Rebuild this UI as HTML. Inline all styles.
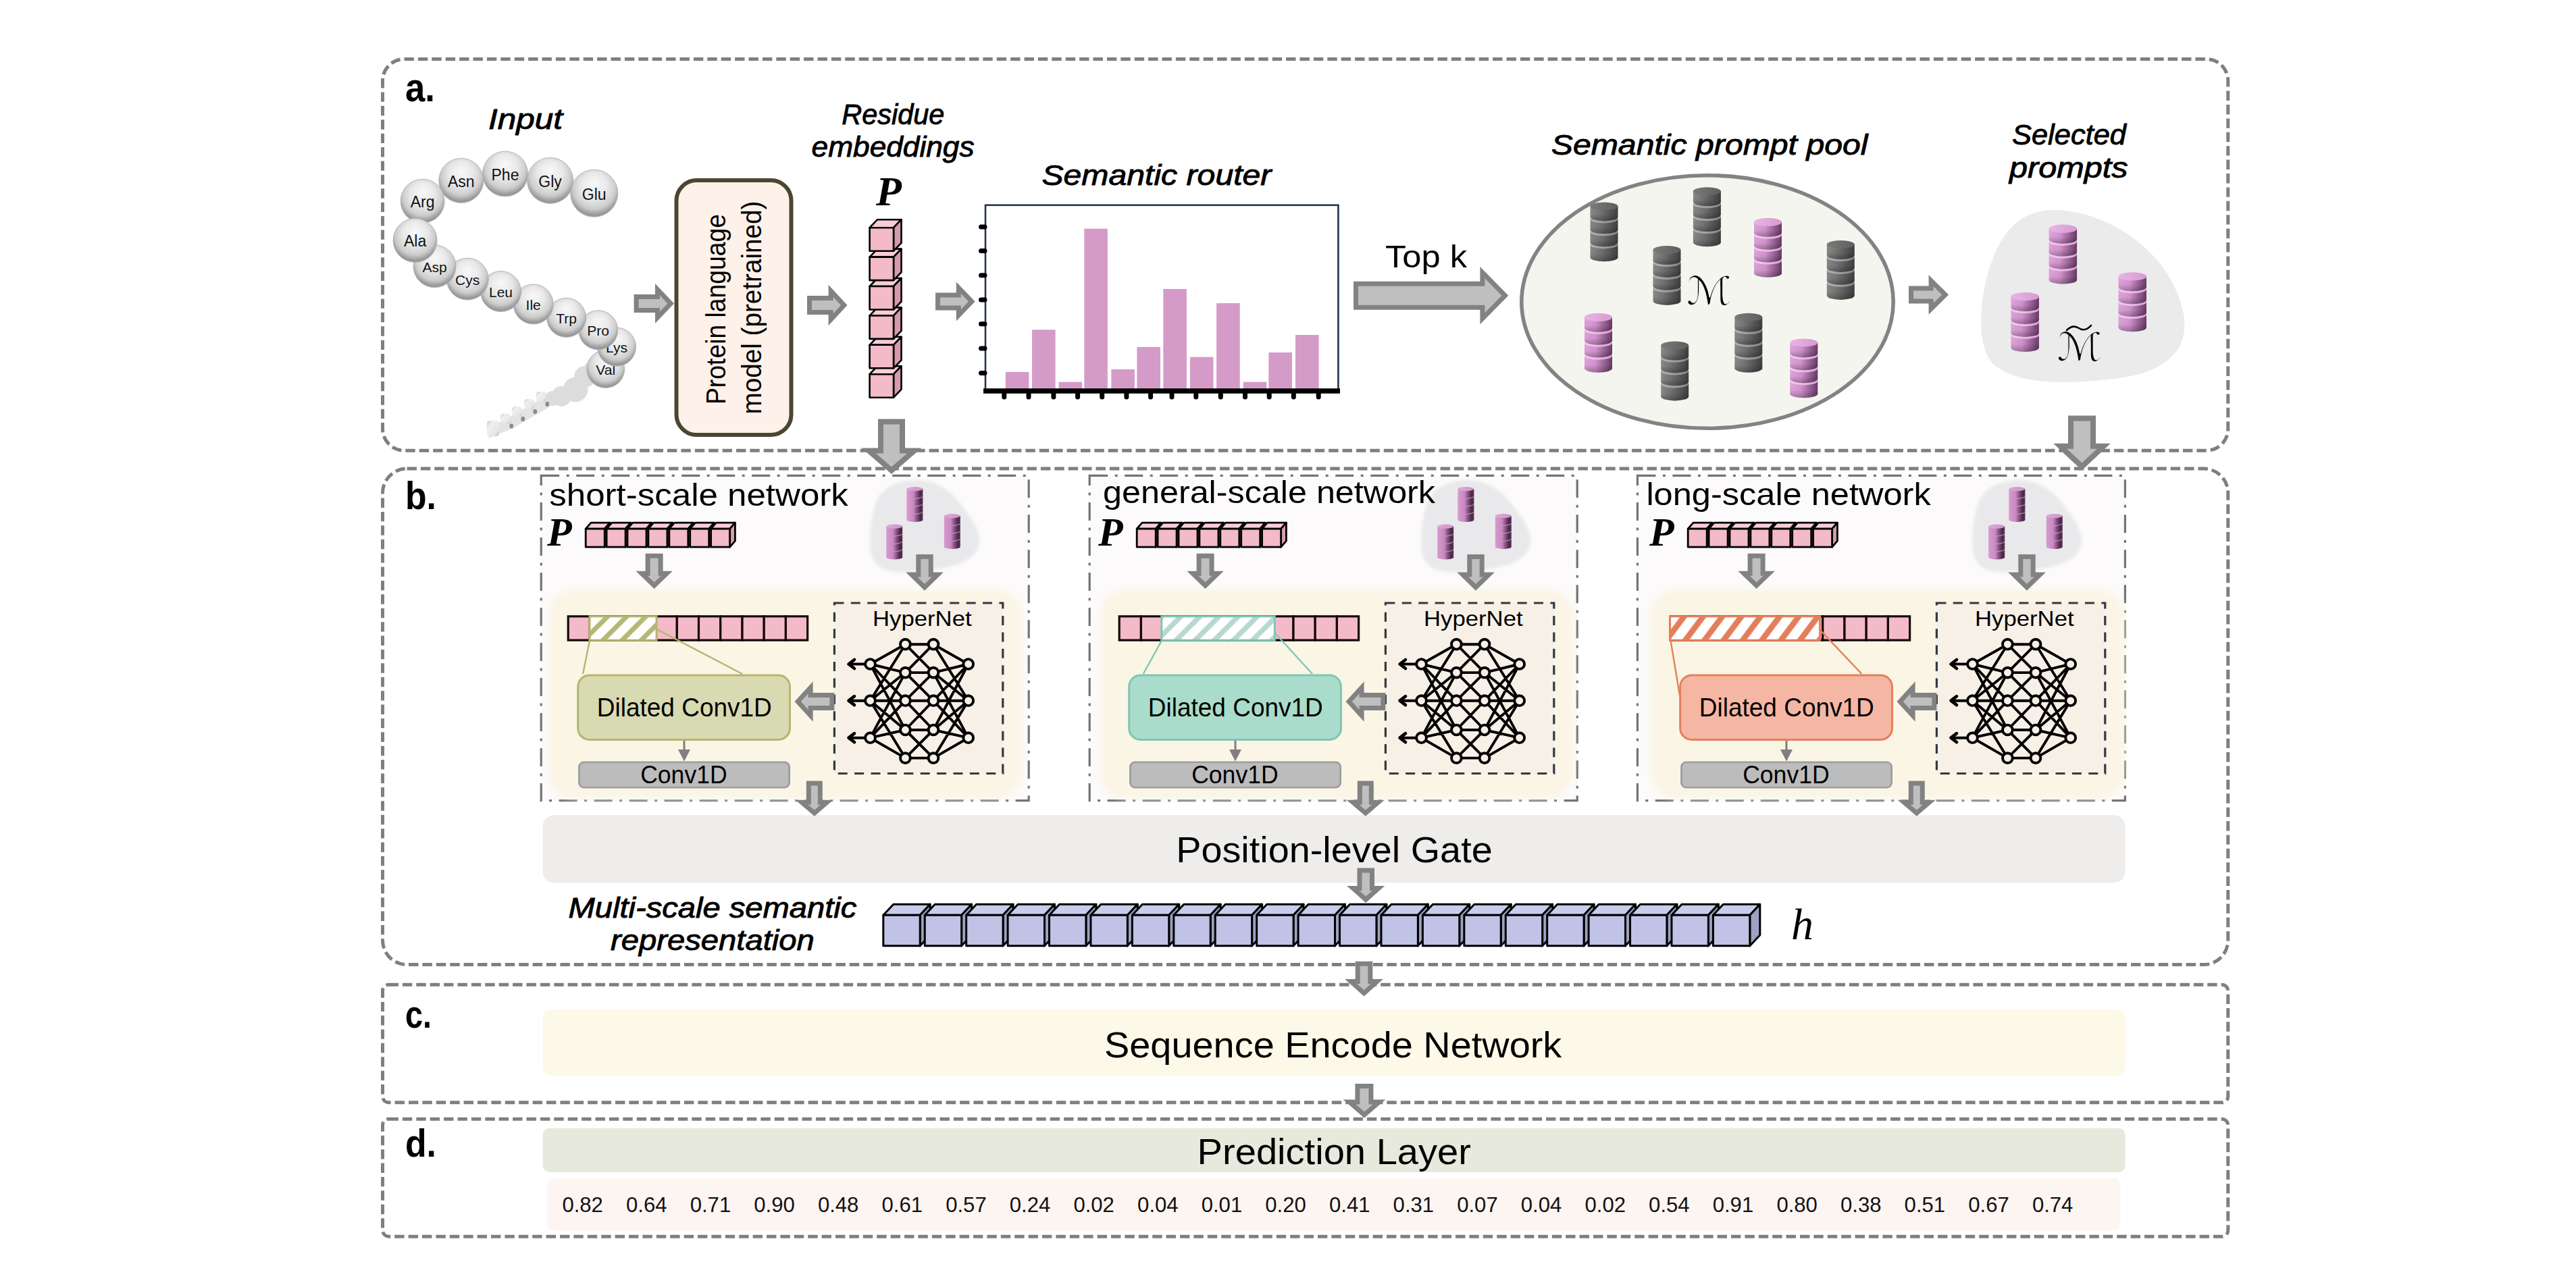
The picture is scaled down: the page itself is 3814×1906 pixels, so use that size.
<!DOCTYPE html>
<html lang="en"><head><meta charset="utf-8"><title>Multi-scale semantic prompt architecture</title>
<style>html,body{margin:0;padding:0;background:#fff}svg{display:block}</style></head>
<body>
<svg width="3814" height="1906" viewBox="0 0 3814 1906">
<defs>
<radialGradient id="sph" cx="0.5" cy="0.42" r="0.62" fx="0.5" fy="0.28">
<stop offset="0" stop-color="#f8f8f8"/><stop offset="0.45" stop-color="#e8e8e8"/><stop offset="0.72" stop-color="#cdcdcd"/><stop offset="0.9" stop-color="#959595"/><stop offset="0.96" stop-color="#a8a8a8"/><stop offset="1" stop-color="#d2d2d2"/>
</radialGradient>
<filter id="soft" x="-5%" y="-5%" width="110%" height="110%"><feGaussianBlur stdDeviation="5"/></filter>
<filter id="soft2" x="-5%" y="-5%" width="110%" height="110%"><feGaussianBlur stdDeviation="2.2"/></filter>
<linearGradient id="dv" x1="0" x2="0" y1="0" y2="1"><stop offset="0" stop-color="#000" stop-opacity="0"/><stop offset="0.55" stop-color="#000" stop-opacity="0.04"/><stop offset="1" stop-color="#000" stop-opacity="0.28"/></linearGradient>
<linearGradient id="stp" x1="0" x2="1" y1="0" y2="1"><stop offset="0" stop-color="#c9c9c9"/><stop offset="0.3" stop-color="#efefef"/><stop offset="0.75" stop-color="#e6e6e6"/><stop offset="1" stop-color="#bdbdbd"/></linearGradient>
<linearGradient id="gS" x1="0" x2="1" y1="0" y2="0"><stop offset="0" stop-color="#8b8b8b"/><stop offset="0.35" stop-color="#767676"/><stop offset="1" stop-color="#3f3f3f"/></linearGradient>
<linearGradient id="gT" x1="0" x2="1" y1="0" y2="0"><stop offset="0" stop-color="#7a7a7a"/><stop offset="1" stop-color="#5e5e5e"/></linearGradient>
<linearGradient id="pS" x1="0" x2="1" y1="0" y2="0"><stop offset="0" stop-color="#e2a6de"/><stop offset="0.4" stop-color="#d696d1"/><stop offset="1" stop-color="#6a3a68"/></linearGradient>
<linearGradient id="pT" x1="0" x2="1" y1="0" y2="0"><stop offset="0" stop-color="#e9b3e5"/><stop offset="1" stop-color="#d79bd2"/></linearGradient>
<linearGradient id="mS" x1="0" x2="1" y1="0" y2="0"><stop offset="0" stop-color="#d99ad1"/><stop offset="0.42" stop-color="#c888c0"/><stop offset="0.62" stop-color="#8a5586"/><stop offset="0.85" stop-color="#4a2747"/><stop offset="1" stop-color="#5a3157"/></linearGradient>
<linearGradient id="mT" x1="0" x2="1" y1="0" y2="0"><stop offset="0" stop-color="#dfa8d8"/><stop offset="1" stop-color="#cf93c8"/></linearGradient>
<linearGradient id="gC" x1="0" x2="1" y1="0" y2="0"><stop offset="0" stop-color="#b4b4b4"/><stop offset="1" stop-color="#858585"/></linearGradient>
<linearGradient id="pC" x1="0" x2="1" y1="0" y2="0"><stop offset="0" stop-color="#f4cdf1"/><stop offset="1" stop-color="#dba6d6"/></linearGradient>
<linearGradient id="mC" x1="0" x2="1" y1="0" y2="0"><stop offset="0" stop-color="#e9bde4"/><stop offset="1" stop-color="#b77fb0"/></linearGradient>
<linearGradient id="tail" x1="1" x2="0" y1="0" y2="1"><stop offset="0" stop-color="#d9d9d9"/><stop offset="1" stop-color="#f0f0f0"/></linearGradient>
<pattern id="hO" width="28.3" height="38.5" patternUnits="userSpaceOnUse" patternTransform="translate(871.6,911.5)"><rect width="28.3" height="38.5" fill="#fff"/><path d="M-93.9,38.5 L-55.4,0 M-65.6,38.5 L-27.1,0 M-37.3,38.5 L1.2,0 M-9.0,38.5 L29.5,0 M19.3,38.5 L57.8,0 M47.6,38.5 L86.1,0 " stroke="#b5b873" stroke-width="7.2"/></pattern>
<pattern id="hT" width="28.3" height="38.5" patternUnits="userSpaceOnUse" patternTransform="translate(1719.2,911.5)"><rect width="28.3" height="38.5" fill="#fff"/><path d="M-92.9,38.5 L-54.4,0 M-64.6,38.5 L-26.1,0 M-36.3,38.5 L2.2,0 M-8.0,38.5 L30.5,0 M20.3,38.5 L58.8,0 M48.6,38.5 L87.1,0 " stroke="#b7d8d1" stroke-width="7.6"/></pattern>
<pattern id="hR" width="28.3" height="38.5" patternUnits="userSpaceOnUse" patternTransform="translate(2471.6,911.5)"><rect width="28.3" height="38.5" fill="#fff"/><path d="M-90.9,38.5 L-61.9,0 M-62.6,38.5 L-33.6,0 M-34.3,38.5 L-5.3,0 M-6.0,38.5 L23.0,0 M22.3,38.5 L51.3,0 M50.6,38.5 L79.6,0 " stroke="#e37d5a" stroke-width="8.6"/></pattern>
</defs>
<rect width="3814" height="1906" fill="#ffffff"/>

<rect x="566.5" y="87.5" width="2732.3" height="579.7" rx="32" fill="none" stroke="#7f7f7f" stroke-width="5" stroke-dasharray="14.4 6"/>
<rect x="566.5" y="694" width="2732.3" height="734.5999999999999" rx="36" fill="none" stroke="#7f7f7f" stroke-width="5" stroke-dasharray="14.4 6"/>
<rect x="566.5" y="1458.3" width="2732.3" height="174.4000000000001" rx="9" fill="none" stroke="#7f7f7f" stroke-width="5" stroke-dasharray="14.4 6"/>
<rect x="566.5" y="1657.2" width="2732.3" height="174.0" rx="9" fill="none" stroke="#7f7f7f" stroke-width="5" stroke-dasharray="14.4 6"/>
<text x="600" y="150" font-family='"Liberation Sans", "DejaVu Sans", sans-serif' font-size="60" font-weight="bold" font-style="normal" text-anchor="start" fill="#000" textLength="44" lengthAdjust="spacingAndGlyphs">a.</text>
<text x="723" y="190.6" font-family='"Liberation Sans", "DejaVu Sans", sans-serif' font-size="43" font-weight="normal" font-style="italic" text-anchor="start" fill="#000" textLength="110" lengthAdjust="spacingAndGlyphs" stroke="#000" stroke-width="0.9">Input</text>
<g>
<polygon points="723,649 727,633 806,588 816,601 760,634" fill="#e3e3e3"/>
<circle cx="878" cy="548" r="14" fill="#dcdcdc"/>
<circle cx="866" cy="558" r="16" fill="#dcdcdc"/>
<circle cx="852" cy="577" r="18.5" fill="#dcdcdc"/>
<circle cx="831" cy="587" r="15" fill="#dcdcdc"/>
<circle cx="818" cy="590" r="11" fill="#dcdcdc"/>
<rect x="794" y="580" width="15" height="15" rx="4.5" fill="url(#stp)"/>
<rect x="807.5" y="595" width="5.5" height="7" rx="2.2" fill="#7d7d7d" opacity="0.85"/>
<rect x="776" y="591" width="15" height="15" rx="4.5" fill="url(#stp)"/>
<rect x="789.5" y="606" width="5.5" height="7" rx="2.2" fill="#7d7d7d" opacity="0.85"/>
<rect x="758" y="602" width="15" height="15" rx="4.5" fill="url(#stp)"/>
<rect x="771.5" y="617" width="5.5" height="7" rx="2.2" fill="#7d7d7d" opacity="0.85"/>
<rect x="741" y="612.5" width="15" height="15" rx="4.5" fill="url(#stp)"/>
<rect x="754.5" y="627.5" width="5.5" height="7" rx="2.2" fill="#7d7d7d" opacity="0.85"/>
<rect x="721" y="623" width="18" height="23" rx="4.5" fill="url(#stp)"/>
</g>
<circle cx="896.7" cy="546.5" r="28" fill="url(#sph)" stroke="#b5b5b5" stroke-width="1"/>
<text x="896.7" y="555.11" font-family='"Liberation Sans", "DejaVu Sans", sans-serif' font-size="21" font-weight="normal" font-style="normal" text-anchor="middle" fill="#111">Val</text>
<circle cx="913" cy="513.7" r="28.5" fill="url(#sph)" stroke="#b5b5b5" stroke-width="1"/>
<text x="913" y="522.3100000000001" font-family='"Liberation Sans", "DejaVu Sans", sans-serif' font-size="21" font-weight="normal" font-style="normal" text-anchor="middle" fill="#111">Lys</text>
<circle cx="885.7" cy="488.8" r="29" fill="url(#sph)" stroke="#b5b5b5" stroke-width="1"/>
<text x="885.7" y="497.41" font-family='"Liberation Sans", "DejaVu Sans", sans-serif' font-size="21" font-weight="normal" font-style="normal" text-anchor="middle" fill="#111">Pro</text>
<circle cx="838.5" cy="470.4" r="29" fill="url(#sph)" stroke="#b5b5b5" stroke-width="1"/>
<text x="838.5" y="479.01" font-family='"Liberation Sans", "DejaVu Sans", sans-serif' font-size="21" font-weight="normal" font-style="normal" text-anchor="middle" fill="#111">Trp</text>
<circle cx="789.7" cy="450.5" r="29.5" fill="url(#sph)" stroke="#b5b5b5" stroke-width="1"/>
<text x="789.7" y="459.11" font-family='"Liberation Sans", "DejaVu Sans", sans-serif' font-size="21" font-weight="normal" font-style="normal" text-anchor="middle" fill="#111">Ile</text>
<circle cx="741.5" cy="431.6" r="30" fill="url(#sph)" stroke="#b5b5b5" stroke-width="1"/>
<text x="741.5" y="440.21000000000004" font-family='"Liberation Sans", "DejaVu Sans", sans-serif' font-size="21" font-weight="normal" font-style="normal" text-anchor="middle" fill="#111">Leu</text>
<circle cx="692.2" cy="413.2" r="31" fill="url(#sph)" stroke="#b5b5b5" stroke-width="1"/>
<text x="692.2" y="421.81" font-family='"Liberation Sans", "DejaVu Sans", sans-serif' font-size="21" font-weight="normal" font-style="normal" text-anchor="middle" fill="#111">Cys</text>
<circle cx="643.5" cy="394.3" r="31.5" fill="url(#sph)" stroke="#b5b5b5" stroke-width="1"/>
<text x="643.5" y="402.91" font-family='"Liberation Sans", "DejaVu Sans", sans-serif' font-size="21" font-weight="normal" font-style="normal" text-anchor="middle" fill="#111">Asp</text>
<circle cx="879.7" cy="286.3" r="35" fill="url(#sph)" stroke="#b5b5b5" stroke-width="1"/>
<text x="879.7" y="295.73" font-family='"Liberation Sans", "DejaVu Sans", sans-serif' font-size="23" font-weight="normal" font-style="normal" text-anchor="middle" fill="#111">Glu</text>
<circle cx="814.6" cy="267.4" r="34" fill="url(#sph)" stroke="#b5b5b5" stroke-width="1"/>
<text x="814.6" y="276.83" font-family='"Liberation Sans", "DejaVu Sans", sans-serif' font-size="23" font-weight="normal" font-style="normal" text-anchor="middle" fill="#111">Gly</text>
<circle cx="748" cy="257.5" r="33.5" fill="url(#sph)" stroke="#b5b5b5" stroke-width="1"/>
<text x="748" y="266.93" font-family='"Liberation Sans", "DejaVu Sans", sans-serif' font-size="23" font-weight="normal" font-style="normal" text-anchor="middle" fill="#111">Phe</text>
<circle cx="682.8" cy="267.4" r="33" fill="url(#sph)" stroke="#b5b5b5" stroke-width="1"/>
<text x="682.8" y="276.83" font-family='"Liberation Sans", "DejaVu Sans", sans-serif' font-size="23" font-weight="normal" font-style="normal" text-anchor="middle" fill="#111">Asn</text>
<circle cx="625.6" cy="297.8" r="32.5" fill="url(#sph)" stroke="#b5b5b5" stroke-width="1"/>
<text x="625.6" y="307.23" font-family='"Liberation Sans", "DejaVu Sans", sans-serif' font-size="23" font-weight="normal" font-style="normal" text-anchor="middle" fill="#111">Arg</text>
<circle cx="614.6" cy="356" r="32.5" fill="url(#sph)" stroke="#b5b5b5" stroke-width="1"/>
<text x="614.6" y="365.43" font-family='"Liberation Sans", "DejaVu Sans", sans-serif' font-size="23" font-weight="normal" font-style="normal" text-anchor="middle" fill="#111">Ala</text>
<polygon points="942.1,439.5 973.5,439.5 973.5,428.7 993.2,449.5 973.5,470.3 973.5,459.5 942.1,459.5" fill="#bfbfbf" stroke="#828282" stroke-width="7" stroke-linejoin="miter"/>
<rect x="1001.5" y="267" width="170" height="377" rx="30" fill="#fdf1ea" stroke="#4b4630" stroke-width="6"/>
<g transform="translate(1074,599) rotate(-90)">
<text x="0" y="0" font-family='"Liberation Sans", "DejaVu Sans", sans-serif' font-size="40" font-weight="normal" font-style="normal" text-anchor="start" fill="#000" textLength="282" lengthAdjust="spacingAndGlyphs">Protein language</text>
</g>
<g transform="translate(1127,613.5) rotate(-90)">
<text x="0" y="0" font-family='"Liberation Sans", "DejaVu Sans", sans-serif' font-size="40" font-weight="normal" font-style="normal" text-anchor="start" fill="#000" textLength="316" lengthAdjust="spacingAndGlyphs">model (pretrained)</text>
</g>
<polygon points="1198.5,441.5 1230.1,441.5 1230.1,430.7 1249.8,452.0 1230.1,473.3 1230.1,462.5 1198.5,462.5" fill="#bfbfbf" stroke="#828282" stroke-width="7" stroke-linejoin="miter"/>
<text x="1246.3" y="184.4" font-family='"Liberation Sans", "DejaVu Sans", sans-serif' font-size="43" font-weight="normal" font-style="italic" text-anchor="start" fill="#000" textLength="152" lengthAdjust="spacingAndGlyphs" stroke="#000" stroke-width="0.9">Residue</text>
<text x="1201.6" y="231.6" font-family='"Liberation Sans", "DejaVu Sans", sans-serif' font-size="43" font-weight="normal" font-style="italic" text-anchor="start" fill="#000" textLength="241" lengthAdjust="spacingAndGlyphs" stroke="#000" stroke-width="0.9">embeddings</text>
<text x="1297" y="303.6" font-family='"Liberation Serif", "DejaVu Serif", serif' font-size="62" font-weight="bold" font-style="italic" text-anchor="start" fill="#000">P</text>
<g stroke="#000" stroke-width="2.6" stroke-linejoin="round">
<polygon points="1287.6,554.2 1299.1,542.2 1334.5,542.2 1323.0,554.2" fill="#f7cdd6"/>
<polygon points="1323.0,554.2 1334.5,542.2 1334.5,576.7 1323.0,588.7" fill="#d49bab"/>
<rect x="1287.6" y="554.2" width="35.4" height="34.5" fill="#f3bac8"/>
</g>
<g stroke="#000" stroke-width="2.6" stroke-linejoin="round">
<polygon points="1287.6,510.79999999999995 1299.1,498.79999999999995 1334.5,498.79999999999995 1323.0,510.79999999999995" fill="#f7cdd6"/>
<polygon points="1323.0,510.79999999999995 1334.5,498.79999999999995 1334.5,533.3 1323.0,545.3" fill="#d49bab"/>
<rect x="1287.6" y="510.79999999999995" width="35.4" height="34.5" fill="#f3bac8"/>
</g>
<g stroke="#000" stroke-width="2.6" stroke-linejoin="round">
<polygon points="1287.6,467.4 1299.1,455.4 1334.5,455.4 1323.0,467.4" fill="#f7cdd6"/>
<polygon points="1323.0,467.4 1334.5,455.4 1334.5,489.9 1323.0,501.9" fill="#d49bab"/>
<rect x="1287.6" y="467.4" width="35.4" height="34.5" fill="#f3bac8"/>
</g>
<g stroke="#000" stroke-width="2.6" stroke-linejoin="round">
<polygon points="1287.6,424.0 1299.1,412.0 1334.5,412.0 1323.0,424.0" fill="#f7cdd6"/>
<polygon points="1323.0,424.0 1334.5,412.0 1334.5,446.5 1323.0,458.5" fill="#d49bab"/>
<rect x="1287.6" y="424.0" width="35.4" height="34.5" fill="#f3bac8"/>
</g>
<g stroke="#000" stroke-width="2.6" stroke-linejoin="round">
<polygon points="1287.6,380.59999999999997 1299.1,368.59999999999997 1334.5,368.59999999999997 1323.0,380.59999999999997" fill="#f7cdd6"/>
<polygon points="1323.0,380.59999999999997 1334.5,368.59999999999997 1334.5,403.09999999999997 1323.0,415.09999999999997" fill="#d49bab"/>
<rect x="1287.6" y="380.59999999999997" width="35.4" height="34.5" fill="#f3bac8"/>
</g>
<g stroke="#000" stroke-width="2.6" stroke-linejoin="round">
<polygon points="1287.6,337.2 1299.1,325.2 1334.5,325.2 1323.0,337.2" fill="#f7cdd6"/>
<polygon points="1323.0,337.2 1334.5,325.2 1334.5,359.7 1323.0,371.7" fill="#d49bab"/>
<rect x="1287.6" y="337.2" width="35.4" height="34.5" fill="#f3bac8"/>
</g>
<polygon points="1304.0,624.6 1336.0,624.6 1336.0,667.5 1353.7,667.5 1320.0,696.7 1286.3,667.5 1304.0,667.5" fill="#bfbfbf" stroke="#828282" stroke-width="8" stroke-linejoin="miter"/>
<polygon points="1388.5,437.0 1419.3,437.0 1419.3,426.2 1438.8,446.5 1419.3,466.8 1419.3,456.0 1388.5,456.0" fill="#bfbfbf" stroke="#828282" stroke-width="7" stroke-linejoin="miter"/>
<text x="1542.4" y="273.8" font-family='"Liberation Sans", "DejaVu Sans", sans-serif' font-size="43" font-weight="normal" font-style="italic" text-anchor="start" fill="#000" textLength="340" lengthAdjust="spacingAndGlyphs" stroke="#000" stroke-width="0.9">Semantic router</text>
<rect x="1459" y="303.8" width="522.4" height="275" fill="#fff" stroke="#22344f" stroke-width="2.6"/>
<rect x="1488.8" y="550.8" width="34.6" height="25.2" fill="#d59bc8"/>
<rect x="1528" y="488.3" width="34.6" height="87.7" fill="#d59bc8"/>
<rect x="1567.6" y="565.6" width="34.6" height="10.4" fill="#d59bc8"/>
<rect x="1605.3" y="338.7" width="34.6" height="237.3" fill="#d59bc8"/>
<rect x="1645.3" y="546.9" width="34.6" height="29.1" fill="#d59bc8"/>
<rect x="1683.4" y="513.9" width="34.6" height="62.1" fill="#d59bc8"/>
<rect x="1722.3" y="428" width="34.6" height="148.0" fill="#d59bc8"/>
<rect x="1761.9" y="528.7" width="34.6" height="47.3" fill="#d59bc8"/>
<rect x="1801.1" y="449" width="34.6" height="127.0" fill="#d59bc8"/>
<rect x="1840.7" y="565.6" width="34.6" height="10.4" fill="#d59bc8"/>
<rect x="1878.4" y="522" width="34.6" height="54.0" fill="#d59bc8"/>
<rect x="1918" y="496" width="34.6" height="80.0" fill="#d59bc8"/>
<path d="M1456,579 H1984" stroke="#000" stroke-width="7.4"/>
<path d="M1452.5,336H1458M1452.5,371.6H1458M1452.5,407.8H1458M1452.5,444H1458M1452.5,479.8H1458M1452.5,515.9H1458M1452.5,552.4H1458M1486.8,580V588M1523,580V588M1559.9,580V588M1595.6,580V588M1631.7,580V588M1667.9,580V588M1703.6,580V588M1735,580V588M1770.8,580V588M1807.3,580V588M1843.5,580V588M1879.2,580V588M1915.3,580V588M1952.2,580V588" stroke="#000" stroke-width="7" stroke-linecap="round"/>
<text x="2051" y="396" font-family='"Liberation Sans", "DejaVu Sans", sans-serif' font-size="46" font-weight="normal" font-style="normal" text-anchor="start" fill="#000" textLength="121" lengthAdjust="spacingAndGlyphs">Top k</text>
<polygon points="2007.5,420.2 2194.9,420.2 2194.9,403.6 2228.4,437.7 2194.9,471.8 2194.9,455.2 2007.5,455.2" fill="#bfbfbf" stroke="#828282" stroke-width="7" stroke-linejoin="miter"/>
<text x="2296.8" y="228.7" font-family='"Liberation Sans", "DejaVu Sans", sans-serif' font-size="43" font-weight="normal" font-style="italic" text-anchor="start" fill="#000" textLength="468.7" lengthAdjust="spacingAndGlyphs" stroke="#000" stroke-width="0.9">Semantic prompt pool</text>
<ellipse cx="2528" cy="447" rx="275.2" ry="187.3" fill="#f5f5f0" stroke="#838383" stroke-width="5.6"/>
<path d="M2354.5,362.3 L2354.5,381.2 A20.5,6.1 0 0 0 2395.5,381.2 L2395.5,362.3 Z" fill="url(#gS)"/>
<path d="M2354.5,362.3 L2354.5,381.2 A20.5,6.1 0 0 0 2395.5,381.2 L2395.5,362.3 Z" fill="url(#dv)"/>
<ellipse cx="2375.0" cy="362.3" rx="20.5" ry="6.1" fill="url(#gC)"/>
<path d="M2354.5,343.4 L2354.5,359.1 A20.5,6.1 0 0 0 2395.5,359.1 L2395.5,343.4 Z" fill="url(#gS)"/>
<path d="M2354.5,343.4 L2354.5,359.1 A20.5,6.1 0 0 0 2395.5,359.1 L2395.5,343.4 Z" fill="url(#dv)"/>
<ellipse cx="2375.0" cy="343.4" rx="20.5" ry="6.1" fill="url(#gC)"/>
<path d="M2354.5,324.5 L2354.5,340.2 A20.5,6.1 0 0 0 2395.5,340.2 L2395.5,324.5 Z" fill="url(#gS)"/>
<path d="M2354.5,324.5 L2354.5,340.2 A20.5,6.1 0 0 0 2395.5,340.2 L2395.5,324.5 Z" fill="url(#dv)"/>
<ellipse cx="2375.0" cy="324.5" rx="20.5" ry="6.1" fill="url(#gC)"/>
<path d="M2354.5,305.5 L2354.5,321.3 A20.5,6.1 0 0 0 2395.5,321.3 L2395.5,305.5 Z" fill="url(#gS)"/>
<path d="M2354.5,305.5 L2354.5,321.3 A20.5,6.1 0 0 0 2395.5,321.3 L2395.5,305.5 Z" fill="url(#dv)"/>
<ellipse cx="2375.0" cy="305.5" rx="20.5" ry="6.1" fill="url(#gT)"/>
<path d="M2506.9,340.1 L2506.9,359.1 A20.5,6.1 0 0 0 2547.9,359.1 L2547.9,340.1 Z" fill="url(#gS)"/>
<path d="M2506.9,340.1 L2506.9,359.1 A20.5,6.1 0 0 0 2547.9,359.1 L2547.9,340.1 Z" fill="url(#dv)"/>
<ellipse cx="2527.4" cy="340.1" rx="20.5" ry="6.1" fill="url(#gC)"/>
<path d="M2506.9,321.2 L2506.9,336.9 A20.5,6.1 0 0 0 2547.9,336.9 L2547.9,321.2 Z" fill="url(#gS)"/>
<path d="M2506.9,321.2 L2506.9,336.9 A20.5,6.1 0 0 0 2547.9,336.9 L2547.9,321.2 Z" fill="url(#dv)"/>
<ellipse cx="2527.4" cy="321.2" rx="20.5" ry="6.1" fill="url(#gC)"/>
<path d="M2506.9,302.3 L2506.9,318.0 A20.5,6.1 0 0 0 2547.9,318.0 L2547.9,302.3 Z" fill="url(#gS)"/>
<path d="M2506.9,302.3 L2506.9,318.0 A20.5,6.1 0 0 0 2547.9,318.0 L2547.9,302.3 Z" fill="url(#dv)"/>
<ellipse cx="2527.4" cy="302.3" rx="20.5" ry="6.1" fill="url(#gC)"/>
<path d="M2506.9,283.3 L2506.9,299.1 A20.5,6.1 0 0 0 2547.9,299.1 L2547.9,283.3 Z" fill="url(#gS)"/>
<path d="M2506.9,283.3 L2506.9,299.1 A20.5,6.1 0 0 0 2547.9,299.1 L2547.9,283.3 Z" fill="url(#dv)"/>
<ellipse cx="2527.4" cy="283.3" rx="20.5" ry="6.1" fill="url(#gT)"/>
<path d="M2597.0,385.7 L2597.0,404.7 A20.5,6.1 0 0 0 2638.0,404.7 L2638.0,385.7 Z" fill="url(#pS)"/>
<path d="M2597.0,385.7 L2597.0,404.7 A20.5,6.1 0 0 0 2638.0,404.7 L2638.0,385.7 Z" fill="url(#dv)"/>
<ellipse cx="2617.5" cy="385.7" rx="20.5" ry="6.1" fill="url(#pC)"/>
<path d="M2597.0,366.8 L2597.0,382.5 A20.5,6.1 0 0 0 2638.0,382.5 L2638.0,366.8 Z" fill="url(#pS)"/>
<path d="M2597.0,366.8 L2597.0,382.5 A20.5,6.1 0 0 0 2638.0,382.5 L2638.0,366.8 Z" fill="url(#dv)"/>
<ellipse cx="2617.5" cy="366.8" rx="20.5" ry="6.1" fill="url(#pC)"/>
<path d="M2597.0,347.9 L2597.0,363.6 A20.5,6.1 0 0 0 2638.0,363.6 L2638.0,347.9 Z" fill="url(#pS)"/>
<path d="M2597.0,347.9 L2597.0,363.6 A20.5,6.1 0 0 0 2638.0,363.6 L2638.0,347.9 Z" fill="url(#dv)"/>
<ellipse cx="2617.5" cy="347.9" rx="20.5" ry="6.1" fill="url(#pC)"/>
<path d="M2597.0,328.9 L2597.0,344.7 A20.5,6.1 0 0 0 2638.0,344.7 L2638.0,328.9 Z" fill="url(#pS)"/>
<path d="M2597.0,328.9 L2597.0,344.7 A20.5,6.1 0 0 0 2638.0,344.7 L2638.0,328.9 Z" fill="url(#dv)"/>
<ellipse cx="2617.5" cy="328.9" rx="20.5" ry="6.1" fill="url(#pT)"/>
<path d="M2704.8,418.9 L2704.8,437.8 A20.5,6.1 0 0 0 2745.8,437.8 L2745.8,418.9 Z" fill="url(#gS)"/>
<path d="M2704.8,418.9 L2704.8,437.8 A20.5,6.1 0 0 0 2745.8,437.8 L2745.8,418.9 Z" fill="url(#dv)"/>
<ellipse cx="2725.3" cy="418.9" rx="20.5" ry="6.1" fill="url(#gC)"/>
<path d="M2704.8,400.0 L2704.8,415.7 A20.5,6.1 0 0 0 2745.8,415.7 L2745.8,400.0 Z" fill="url(#gS)"/>
<path d="M2704.8,400.0 L2704.8,415.7 A20.5,6.1 0 0 0 2745.8,415.7 L2745.8,400.0 Z" fill="url(#dv)"/>
<ellipse cx="2725.3" cy="400.0" rx="20.5" ry="6.1" fill="url(#gC)"/>
<path d="M2704.8,381.1 L2704.8,396.8 A20.5,6.1 0 0 0 2745.8,396.8 L2745.8,381.1 Z" fill="url(#gS)"/>
<path d="M2704.8,381.1 L2704.8,396.8 A20.5,6.1 0 0 0 2745.8,396.8 L2745.8,381.1 Z" fill="url(#dv)"/>
<ellipse cx="2725.3" cy="381.1" rx="20.5" ry="6.1" fill="url(#gC)"/>
<path d="M2704.8,362.1 L2704.8,377.9 A20.5,6.1 0 0 0 2745.8,377.9 L2745.8,362.1 Z" fill="url(#gS)"/>
<path d="M2704.8,362.1 L2704.8,377.9 A20.5,6.1 0 0 0 2745.8,377.9 L2745.8,362.1 Z" fill="url(#dv)"/>
<ellipse cx="2725.3" cy="362.1" rx="20.5" ry="6.1" fill="url(#gT)"/>
<path d="M2447.5,426.9 L2447.5,445.8 A20.5,6.1 0 0 0 2488.5,445.8 L2488.5,426.9 Z" fill="url(#gS)"/>
<path d="M2447.5,426.9 L2447.5,445.8 A20.5,6.1 0 0 0 2488.5,445.8 L2488.5,426.9 Z" fill="url(#dv)"/>
<ellipse cx="2468.0" cy="426.9" rx="20.5" ry="6.1" fill="url(#gC)"/>
<path d="M2447.5,408.0 L2447.5,423.7 A20.5,6.1 0 0 0 2488.5,423.7 L2488.5,408.0 Z" fill="url(#gS)"/>
<path d="M2447.5,408.0 L2447.5,423.7 A20.5,6.1 0 0 0 2488.5,423.7 L2488.5,408.0 Z" fill="url(#dv)"/>
<ellipse cx="2468.0" cy="408.0" rx="20.5" ry="6.1" fill="url(#gC)"/>
<path d="M2447.5,389.1 L2447.5,404.8 A20.5,6.1 0 0 0 2488.5,404.8 L2488.5,389.1 Z" fill="url(#gS)"/>
<path d="M2447.5,389.1 L2447.5,404.8 A20.5,6.1 0 0 0 2488.5,404.8 L2488.5,389.1 Z" fill="url(#dv)"/>
<ellipse cx="2468.0" cy="389.1" rx="20.5" ry="6.1" fill="url(#gC)"/>
<path d="M2447.5,370.1 L2447.5,385.9 A20.5,6.1 0 0 0 2488.5,385.9 L2488.5,370.1 Z" fill="url(#gS)"/>
<path d="M2447.5,370.1 L2447.5,385.9 A20.5,6.1 0 0 0 2488.5,385.9 L2488.5,370.1 Z" fill="url(#dv)"/>
<ellipse cx="2468.0" cy="370.1" rx="20.5" ry="6.1" fill="url(#gT)"/>
<path d="M2346.0,526.7 L2346.0,545.6 A20.5,6.1 0 0 0 2387.0,545.6 L2387.0,526.7 Z" fill="url(#pS)"/>
<path d="M2346.0,526.7 L2346.0,545.6 A20.5,6.1 0 0 0 2387.0,545.6 L2387.0,526.7 Z" fill="url(#dv)"/>
<ellipse cx="2366.5" cy="526.7" rx="20.5" ry="6.1" fill="url(#pC)"/>
<path d="M2346.0,507.8 L2346.0,523.5 A20.5,6.1 0 0 0 2387.0,523.5 L2387.0,507.8 Z" fill="url(#pS)"/>
<path d="M2346.0,507.8 L2346.0,523.5 A20.5,6.1 0 0 0 2387.0,523.5 L2387.0,507.8 Z" fill="url(#dv)"/>
<ellipse cx="2366.5" cy="507.8" rx="20.5" ry="6.1" fill="url(#pC)"/>
<path d="M2346.0,488.9 L2346.0,504.6 A20.5,6.1 0 0 0 2387.0,504.6 L2387.0,488.9 Z" fill="url(#pS)"/>
<path d="M2346.0,488.9 L2346.0,504.6 A20.5,6.1 0 0 0 2387.0,504.6 L2387.0,488.9 Z" fill="url(#dv)"/>
<ellipse cx="2366.5" cy="488.9" rx="20.5" ry="6.1" fill="url(#pC)"/>
<path d="M2346.0,469.9 L2346.0,485.7 A20.5,6.1 0 0 0 2387.0,485.7 L2387.0,469.9 Z" fill="url(#pS)"/>
<path d="M2346.0,469.9 L2346.0,485.7 A20.5,6.1 0 0 0 2387.0,485.7 L2387.0,469.9 Z" fill="url(#dv)"/>
<ellipse cx="2366.5" cy="469.9" rx="20.5" ry="6.1" fill="url(#pT)"/>
<path d="M2459.2,568.4 L2459.2,587.3 A20.5,6.1 0 0 0 2500.2,587.3 L2500.2,568.4 Z" fill="url(#gS)"/>
<path d="M2459.2,568.4 L2459.2,587.3 A20.5,6.1 0 0 0 2500.2,587.3 L2500.2,568.4 Z" fill="url(#dv)"/>
<ellipse cx="2479.7" cy="568.4" rx="20.5" ry="6.1" fill="url(#gC)"/>
<path d="M2459.2,549.5 L2459.2,565.2 A20.5,6.1 0 0 0 2500.2,565.2 L2500.2,549.5 Z" fill="url(#gS)"/>
<path d="M2459.2,549.5 L2459.2,565.2 A20.5,6.1 0 0 0 2500.2,565.2 L2500.2,549.5 Z" fill="url(#dv)"/>
<ellipse cx="2479.7" cy="549.5" rx="20.5" ry="6.1" fill="url(#gC)"/>
<path d="M2459.2,530.6 L2459.2,546.3 A20.5,6.1 0 0 0 2500.2,546.3 L2500.2,530.6 Z" fill="url(#gS)"/>
<path d="M2459.2,530.6 L2459.2,546.3 A20.5,6.1 0 0 0 2500.2,546.3 L2500.2,530.6 Z" fill="url(#dv)"/>
<ellipse cx="2479.7" cy="530.6" rx="20.5" ry="6.1" fill="url(#gC)"/>
<path d="M2459.2,511.6 L2459.2,527.4 A20.5,6.1 0 0 0 2500.2,527.4 L2500.2,511.6 Z" fill="url(#gS)"/>
<path d="M2459.2,511.6 L2459.2,527.4 A20.5,6.1 0 0 0 2500.2,527.4 L2500.2,511.6 Z" fill="url(#dv)"/>
<ellipse cx="2479.7" cy="511.6" rx="20.5" ry="6.1" fill="url(#gT)"/>
<path d="M2568.3,526.7 L2568.3,545.6 A20.5,6.1 0 0 0 2609.3,545.6 L2609.3,526.7 Z" fill="url(#gS)"/>
<path d="M2568.3,526.7 L2568.3,545.6 A20.5,6.1 0 0 0 2609.3,545.6 L2609.3,526.7 Z" fill="url(#dv)"/>
<ellipse cx="2588.8" cy="526.7" rx="20.5" ry="6.1" fill="url(#gC)"/>
<path d="M2568.3,507.8 L2568.3,523.5 A20.5,6.1 0 0 0 2609.3,523.5 L2609.3,507.8 Z" fill="url(#gS)"/>
<path d="M2568.3,507.8 L2568.3,523.5 A20.5,6.1 0 0 0 2609.3,523.5 L2609.3,507.8 Z" fill="url(#dv)"/>
<ellipse cx="2588.8" cy="507.8" rx="20.5" ry="6.1" fill="url(#gC)"/>
<path d="M2568.3,488.9 L2568.3,504.6 A20.5,6.1 0 0 0 2609.3,504.6 L2609.3,488.9 Z" fill="url(#gS)"/>
<path d="M2568.3,488.9 L2568.3,504.6 A20.5,6.1 0 0 0 2609.3,504.6 L2609.3,488.9 Z" fill="url(#dv)"/>
<ellipse cx="2588.8" cy="488.9" rx="20.5" ry="6.1" fill="url(#gC)"/>
<path d="M2568.3,469.9 L2568.3,485.7 A20.5,6.1 0 0 0 2609.3,485.7 L2609.3,469.9 Z" fill="url(#gS)"/>
<path d="M2568.3,469.9 L2568.3,485.7 A20.5,6.1 0 0 0 2609.3,485.7 L2609.3,469.9 Z" fill="url(#dv)"/>
<ellipse cx="2588.8" cy="469.9" rx="20.5" ry="6.1" fill="url(#gT)"/>
<path d="M2650.3,564.3 L2650.3,583.2 A20.5,6.1 0 0 0 2691.3,583.2 L2691.3,564.3 Z" fill="url(#pS)"/>
<path d="M2650.3,564.3 L2650.3,583.2 A20.5,6.1 0 0 0 2691.3,583.2 L2691.3,564.3 Z" fill="url(#dv)"/>
<ellipse cx="2670.8" cy="564.3" rx="20.5" ry="6.1" fill="url(#pC)"/>
<path d="M2650.3,545.4 L2650.3,561.1 A20.5,6.1 0 0 0 2691.3,561.1 L2691.3,545.4 Z" fill="url(#pS)"/>
<path d="M2650.3,545.4 L2650.3,561.1 A20.5,6.1 0 0 0 2691.3,561.1 L2691.3,545.4 Z" fill="url(#dv)"/>
<ellipse cx="2670.8" cy="545.4" rx="20.5" ry="6.1" fill="url(#pC)"/>
<path d="M2650.3,526.5 L2650.3,542.2 A20.5,6.1 0 0 0 2691.3,542.2 L2691.3,526.5 Z" fill="url(#pS)"/>
<path d="M2650.3,526.5 L2650.3,542.2 A20.5,6.1 0 0 0 2691.3,542.2 L2691.3,526.5 Z" fill="url(#dv)"/>
<ellipse cx="2670.8" cy="526.5" rx="20.5" ry="6.1" fill="url(#pC)"/>
<path d="M2650.3,507.5 L2650.3,523.3 A20.5,6.1 0 0 0 2691.3,523.3 L2691.3,507.5 Z" fill="url(#pS)"/>
<path d="M2650.3,507.5 L2650.3,523.3 A20.5,6.1 0 0 0 2691.3,523.3 L2691.3,507.5 Z" fill="url(#dv)"/>
<ellipse cx="2670.8" cy="507.5" rx="20.5" ry="6.1" fill="url(#pT)"/>
<text x="2497" y="450.5" font-family='"DejaVu Sans", "DejaVu Serif", sans-serif' font-size="58" font-weight="normal" font-style="normal" text-anchor="start" fill="#000" textLength="67" lengthAdjust="spacingAndGlyphs" stroke="#f5f5f0" stroke-width="1.1">&#x2133;</text>
<polygon points="2829.5,427.0 2859.1,427.0 2859.1,415.7 2880.2,436.5 2859.1,457.3 2859.1,446.0 2829.5,446.0" fill="#bfbfbf" stroke="#828282" stroke-width="7" stroke-linejoin="miter"/>
<text x="2979" y="214.3" font-family='"Liberation Sans", "DejaVu Sans", sans-serif' font-size="43" font-weight="normal" font-style="italic" text-anchor="start" fill="#000" textLength="169" lengthAdjust="spacingAndGlyphs" stroke="#000" stroke-width="0.9">Selected</text>
<text x="2975" y="263" font-family='"Liberation Sans", "DejaVu Sans", sans-serif' font-size="43" font-weight="normal" font-style="italic" text-anchor="start" fill="#000" textLength="175.5" lengthAdjust="spacingAndGlyphs" stroke="#000" stroke-width="0.9">prompts</text>
<path d="M3042,311 C3120,312 3215,372 3233,465 C3244,530 3190,556 3120,562 C3050,570 2985,568 2952,540 C2925,515 2930,440 2948,390 C2965,340 2995,310 3042,311 Z" fill="#ebebeb"/>
<path d="M3033.6,395.5 L3033.6,414.4 A20.75,6.2 0 0 0 3075.1,414.4 L3075.1,395.5 Z" fill="url(#pS)"/>
<path d="M3033.6,395.5 L3033.6,414.4 A20.75,6.2 0 0 0 3075.1,414.4 L3075.1,395.5 Z" fill="url(#dv)"/>
<ellipse cx="3054.3" cy="395.5" rx="20.75" ry="6.2" fill="url(#pC)"/>
<path d="M3033.6,376.6 L3033.6,392.3 A20.75,6.2 0 0 0 3075.1,392.3 L3075.1,376.6 Z" fill="url(#pS)"/>
<path d="M3033.6,376.6 L3033.6,392.3 A20.75,6.2 0 0 0 3075.1,392.3 L3075.1,376.6 Z" fill="url(#dv)"/>
<ellipse cx="3054.3" cy="376.6" rx="20.75" ry="6.2" fill="url(#pC)"/>
<path d="M3033.6,357.7 L3033.6,373.4 A20.75,6.2 0 0 0 3075.1,373.4 L3075.1,357.7 Z" fill="url(#pS)"/>
<path d="M3033.6,357.7 L3033.6,373.4 A20.75,6.2 0 0 0 3075.1,373.4 L3075.1,357.7 Z" fill="url(#dv)"/>
<ellipse cx="3054.3" cy="357.7" rx="20.75" ry="6.2" fill="url(#pC)"/>
<path d="M3033.6,338.8 L3033.6,354.5 A20.75,6.2 0 0 0 3075.1,354.5 L3075.1,338.8 Z" fill="url(#pS)"/>
<path d="M3033.6,338.8 L3033.6,354.5 A20.75,6.2 0 0 0 3075.1,354.5 L3075.1,338.8 Z" fill="url(#dv)"/>
<ellipse cx="3054.3" cy="338.8" rx="20.75" ry="6.2" fill="url(#pT)"/>
<path d="M2977.4,495.9 L2977.4,514.8 A20.75,6.2 0 0 0 3018.9,514.8 L3018.9,495.9 Z" fill="url(#pS)"/>
<path d="M2977.4,495.9 L2977.4,514.8 A20.75,6.2 0 0 0 3018.9,514.8 L3018.9,495.9 Z" fill="url(#dv)"/>
<ellipse cx="2998.2" cy="495.9" rx="20.75" ry="6.2" fill="url(#pC)"/>
<path d="M2977.4,477.0 L2977.4,492.7 A20.75,6.2 0 0 0 3018.9,492.7 L3018.9,477.0 Z" fill="url(#pS)"/>
<path d="M2977.4,477.0 L2977.4,492.7 A20.75,6.2 0 0 0 3018.9,492.7 L3018.9,477.0 Z" fill="url(#dv)"/>
<ellipse cx="2998.2" cy="477.0" rx="20.75" ry="6.2" fill="url(#pC)"/>
<path d="M2977.4,458.1 L2977.4,473.8 A20.75,6.2 0 0 0 3018.9,473.8 L3018.9,458.1 Z" fill="url(#pS)"/>
<path d="M2977.4,458.1 L2977.4,473.8 A20.75,6.2 0 0 0 3018.9,473.8 L3018.9,458.1 Z" fill="url(#dv)"/>
<ellipse cx="2998.2" cy="458.1" rx="20.75" ry="6.2" fill="url(#pC)"/>
<path d="M2977.4,439.2 L2977.4,454.9 A20.75,6.2 0 0 0 3018.9,454.9 L3018.9,439.2 Z" fill="url(#pS)"/>
<path d="M2977.4,439.2 L2977.4,454.9 A20.75,6.2 0 0 0 3018.9,454.9 L3018.9,439.2 Z" fill="url(#dv)"/>
<ellipse cx="2998.2" cy="439.2" rx="20.75" ry="6.2" fill="url(#pT)"/>
<path d="M3136.5,466.1 L3136.5,485.0 A20.75,6.2 0 0 0 3178.0,485.0 L3178.0,466.1 Z" fill="url(#pS)"/>
<path d="M3136.5,466.1 L3136.5,485.0 A20.75,6.2 0 0 0 3178.0,485.0 L3178.0,466.1 Z" fill="url(#dv)"/>
<ellipse cx="3157.2" cy="466.1" rx="20.75" ry="6.2" fill="url(#pC)"/>
<path d="M3136.5,447.2 L3136.5,462.9 A20.75,6.2 0 0 0 3178.0,462.9 L3178.0,447.2 Z" fill="url(#pS)"/>
<path d="M3136.5,447.2 L3136.5,462.9 A20.75,6.2 0 0 0 3178.0,462.9 L3178.0,447.2 Z" fill="url(#dv)"/>
<ellipse cx="3157.2" cy="447.2" rx="20.75" ry="6.2" fill="url(#pC)"/>
<path d="M3136.5,428.3 L3136.5,444.0 A20.75,6.2 0 0 0 3178.0,444.0 L3178.0,428.3 Z" fill="url(#pS)"/>
<path d="M3136.5,428.3 L3136.5,444.0 A20.75,6.2 0 0 0 3178.0,444.0 L3178.0,428.3 Z" fill="url(#dv)"/>
<ellipse cx="3157.2" cy="428.3" rx="20.75" ry="6.2" fill="url(#pC)"/>
<path d="M3136.5,409.4 L3136.5,425.1 A20.75,6.2 0 0 0 3178.0,425.1 L3178.0,409.4 Z" fill="url(#pS)"/>
<path d="M3136.5,409.4 L3136.5,425.1 A20.75,6.2 0 0 0 3178.0,425.1 L3178.0,409.4 Z" fill="url(#dv)"/>
<ellipse cx="3157.2" cy="409.4" rx="20.75" ry="6.2" fill="url(#pT)"/>
<text x="3045.5" y="534" font-family='"DejaVu Sans", "DejaVu Serif", sans-serif' font-size="58" font-weight="normal" font-style="normal" text-anchor="start" fill="#000" textLength="67" lengthAdjust="spacingAndGlyphs" stroke="#ebebeb" stroke-width="1.1">&#x2133;</text>
<path d="M3060,489 q9,-9 18,-3 t18,-4" fill="none" stroke="#000" stroke-width="2.6" stroke-linecap="round"/>
<polygon points="3066.0,619.5 3099.0,619.5 3099.0,660.8 3114.7,660.8 3082.5,691.0 3050.3,660.8 3066.0,660.8" fill="#bfbfbf" stroke="#828282" stroke-width="8" stroke-linejoin="miter"/>
<text x="600" y="754" font-family='"Liberation Sans", "DejaVu Sans", sans-serif' font-size="58" font-weight="bold" font-style="normal" text-anchor="start" fill="#000" textLength="46" lengthAdjust="spacingAndGlyphs">b.</text>
<rect x="803.6" y="1207.3" width="2343" height="100" rx="16" fill="#eeedeb"/>
<rect x="801.2" y="704.3" width="722" height="481.4" fill="#fcfafa" stroke="#747474" stroke-width="3.2" stroke-dasharray="27 10.5 4 10.5"/>
<rect x="812" y="873.5" width="700.5" height="309" rx="38" fill="#faf5e5" filter="url(#soft)"/>
<text x="810" y="807.5" font-family='"Liberation Serif", "DejaVu Serif", serif' font-size="60" font-weight="bold" font-style="italic" text-anchor="start" fill="#000">P</text>
<g stroke="#000" stroke-width="2.8" stroke-linejoin="round">
<polygon points="867.2,783.2 875.0,774.2 903.0,774.2 895.2,783.2" fill="#f7cdd6"/>
<polygon points="895.2,783.2 903.0,774.2 903.0,801.2 895.2,810.2" fill="#d49bab"/>
<rect x="867.2" y="783.2" width="28" height="27" fill="#f3bac8"/>
</g>
<g stroke="#000" stroke-width="2.8" stroke-linejoin="round">
<polygon points="898.1,783.2 905.9,774.2 933.9,774.2 926.1,783.2" fill="#f7cdd6"/>
<polygon points="926.1,783.2 933.9,774.2 933.9,801.2 926.1,810.2" fill="#d49bab"/>
<rect x="898.1" y="783.2" width="28" height="27" fill="#f3bac8"/>
</g>
<g stroke="#000" stroke-width="2.8" stroke-linejoin="round">
<polygon points="929.0,783.2 936.8,774.2 964.8,774.2 957.0,783.2" fill="#f7cdd6"/>
<polygon points="957.0,783.2 964.8,774.2 964.8,801.2 957.0,810.2" fill="#d49bab"/>
<rect x="929.0" y="783.2" width="28" height="27" fill="#f3bac8"/>
</g>
<g stroke="#000" stroke-width="2.8" stroke-linejoin="round">
<polygon points="959.9000000000001,783.2 967.7,774.2 995.7,774.2 987.9000000000001,783.2" fill="#f7cdd6"/>
<polygon points="987.9000000000001,783.2 995.7,774.2 995.7,801.2 987.9000000000001,810.2" fill="#d49bab"/>
<rect x="959.9000000000001" y="783.2" width="28" height="27" fill="#f3bac8"/>
</g>
<g stroke="#000" stroke-width="2.8" stroke-linejoin="round">
<polygon points="990.8000000000001,783.2 998.6,774.2 1026.6000000000001,774.2 1018.8000000000001,783.2" fill="#f7cdd6"/>
<polygon points="1018.8000000000001,783.2 1026.6000000000001,774.2 1026.6000000000001,801.2 1018.8000000000001,810.2" fill="#d49bab"/>
<rect x="990.8000000000001" y="783.2" width="28" height="27" fill="#f3bac8"/>
</g>
<g stroke="#000" stroke-width="2.8" stroke-linejoin="round">
<polygon points="1021.7,783.2 1029.5,774.2 1057.5,774.2 1049.7,783.2" fill="#f7cdd6"/>
<polygon points="1049.7,783.2 1057.5,774.2 1057.5,801.2 1049.7,810.2" fill="#d49bab"/>
<rect x="1021.7" y="783.2" width="28" height="27" fill="#f3bac8"/>
</g>
<g stroke="#000" stroke-width="2.8" stroke-linejoin="round">
<polygon points="1052.6,783.2 1060.3999999999999,774.2 1088.3999999999999,774.2 1080.6,783.2" fill="#f7cdd6"/>
<polygon points="1080.6,783.2 1088.3999999999999,774.2 1088.3999999999999,801.2 1080.6,810.2" fill="#d49bab"/>
<rect x="1052.6" y="783.2" width="28" height="27" fill="#f3bac8"/>
</g>
<polygon points="959.1,823.3 978.1,823.3 978.1,849.3 987.1,849.3 968.6,867.2 950.1,849.3 959.1,849.3" fill="#bfbfbf" stroke="#828282" stroke-width="7" stroke-linejoin="miter"/>
<path transform="translate(0,0)" d="M1358,711 C1385,711 1410,728 1425,750 C1440,770 1450,785 1450,800 C1450,815 1440,826 1423,834 C1400,843 1360,847 1330,847 C1305,847 1290,835 1288.5,812 C1287,790 1290,765 1297,745 C1305,722 1330,711 1358,711 Z" fill="#e9e9eb" filter="url(#soft2)"/>
<path d="M1342.4,724.1 L1342.4,769.9 A12.0,3.1 0 0 0 1366.4,769.9 L1366.4,724.1 Z" fill="url(#mS)"/>
<path d="M1353.2,738.6 Q1361.6,738.4 1366.4,735.6" fill="none" stroke="#d9a8d3" stroke-width="1.1" opacity="0.75"/>
<path d="M1353.2,750.1 Q1361.6,749.8 1366.4,747.0" fill="none" stroke="#d9a8d3" stroke-width="1.1" opacity="0.75"/>
<path d="M1353.2,761.5 Q1361.6,761.2 1366.4,758.4" fill="none" stroke="#d9a8d3" stroke-width="1.1" opacity="0.75"/>
<ellipse cx="1354.4" cy="724.1" rx="12.0" ry="3.1" fill="url(#mT)"/>
<path d="M1312.2,779.6 L1312.2,825.4 A12.0,3.1 0 0 0 1336.2,825.4 L1336.2,779.6 Z" fill="url(#mS)"/>
<path d="M1323.0,794.1 Q1331.4,793.9 1336.2,791.1" fill="none" stroke="#d9a8d3" stroke-width="1.1" opacity="0.75"/>
<path d="M1323.0,805.6 Q1331.4,805.3 1336.2,802.5" fill="none" stroke="#d9a8d3" stroke-width="1.1" opacity="0.75"/>
<path d="M1323.0,817.0 Q1331.4,816.7 1336.2,813.9" fill="none" stroke="#d9a8d3" stroke-width="1.1" opacity="0.75"/>
<ellipse cx="1324.2" cy="779.6" rx="12.0" ry="3.1" fill="url(#mT)"/>
<path d="M1397.8,764.1 L1397.8,809.9 A12.0,3.1 0 0 0 1421.8,809.9 L1421.8,764.1 Z" fill="url(#mS)"/>
<path d="M1408.6,778.6 Q1417.0,778.4 1421.8,775.6" fill="none" stroke="#d9a8d3" stroke-width="1.1" opacity="0.75"/>
<path d="M1408.6,790.1 Q1417.0,789.8 1421.8,787.0" fill="none" stroke="#d9a8d3" stroke-width="1.1" opacity="0.75"/>
<path d="M1408.6,801.5 Q1417.0,801.2 1421.8,798.4" fill="none" stroke="#d9a8d3" stroke-width="1.1" opacity="0.75"/>
<ellipse cx="1409.8" cy="764.1" rx="12.0" ry="3.1" fill="url(#mT)"/>
<polygon points="1359.8,824.5 1378.2,824.5 1378.2,850.9 1388.3,850.9 1369.0,869.8 1349.7,850.9 1359.8,850.9" fill="#bfbfbf" stroke="#828282" stroke-width="7" stroke-linejoin="miter"/>
<text x="813.3" y="748.8" font-family='"Liberation Sans", "DejaVu Sans", sans-serif' font-size="47" font-weight="normal" font-style="normal" text-anchor="start" fill="#000" textLength="442.5" lengthAdjust="spacingAndGlyphs">short-scale network</text>
<rect x="1235.4" y="893" width="249.4" height="252.5" fill="#f7f0e7" stroke="#2f3b45" stroke-width="3.2" stroke-dasharray="14 10.4"/>
<text x="1292" y="927.2" font-family='"Liberation Sans", "DejaVu Sans", sans-serif' font-size="31.5" font-weight="normal" font-style="normal" text-anchor="start" fill="#000" textLength="146.6" lengthAdjust="spacingAndGlyphs">HyperNet</text>
<g transform="translate(0,0)" stroke="#000" stroke-width="3.9" fill="none" stroke-linecap="round">
<path d="M1288.5,983.5L1340.4,954.2M1433.7,983.5L1382,954.2M1288.5,983.5L1340.4,996.1M1433.7,983.5L1382,996.1M1288.5,983.5L1340.4,1037.7M1433.7,983.5L1382,1037.7M1288.5,983.5L1340.4,1081M1433.7,983.5L1382,1081M1288.5,1037.7L1340.4,954.2M1433.7,1037.7L1382,954.2M1288.5,1037.7L1340.4,996.1M1433.7,1037.7L1382,996.1M1288.5,1037.7L1340.4,1037.7M1433.7,1037.7L1382,1037.7M1288.5,1037.7L1340.4,1081M1433.7,1037.7L1382,1081M1288.5,1037.7L1340.4,1122.6M1433.7,1037.7L1382,1122.6M1288.5,1092.7L1340.4,996.1M1433.7,1092.7L1382,996.1M1288.5,1092.7L1340.4,1037.7M1433.7,1092.7L1382,1037.7M1288.5,1092.7L1340.4,1081M1433.7,1092.7L1382,1081M1288.5,1092.7L1340.4,1122.6M1433.7,1092.7L1382,1122.6M1340.4,954.2L1382,954.2M1340.4,954.2L1382,996.1M1340.4,996.1L1382,954.2M1340.4,996.1L1382,996.1M1340.4,996.1L1382,1037.7M1340.4,1037.7L1382,996.1M1340.4,1037.7L1382,1037.7M1340.4,1037.7L1382,1081M1340.4,1081L1382,1037.7M1340.4,1081L1382,1081M1340.4,1081L1382,1122.6M1340.4,1122.6L1382,1081M1340.4,1122.6L1382,1122.6M1288.5,983.5L1257,983.5M1288.5,1037.7L1257,1037.7M1288.5,1092.7L1257,1092.7"/>
<path d="M1265,977.0L1256.5,983.5L1265,990.0" stroke-width="4.6" stroke-linejoin="round"/>
<path d="M1265,1031.2L1256.5,1037.7L1265,1044.2" stroke-width="4.6" stroke-linejoin="round"/>
<path d="M1265,1086.2L1256.5,1092.7L1265,1099.2" stroke-width="4.6" stroke-linejoin="round"/>
<circle cx="1288.5" cy="983.5" r="7.4" fill="#f6efe6"/>
<circle cx="1288.5" cy="1037.7" r="7.4" fill="#f6efe6"/>
<circle cx="1288.5" cy="1092.7" r="7.4" fill="#f6efe6"/>
<circle cx="1340.4" cy="954.2" r="7.4" fill="#f6efe6"/>
<circle cx="1340.4" cy="996.1" r="7.4" fill="#f6efe6"/>
<circle cx="1340.4" cy="1037.7" r="7.4" fill="#f6efe6"/>
<circle cx="1340.4" cy="1081" r="7.4" fill="#f6efe6"/>
<circle cx="1340.4" cy="1122.6" r="7.4" fill="#f6efe6"/>
<circle cx="1382" cy="954.2" r="7.4" fill="#f6efe6"/>
<circle cx="1382" cy="996.1" r="7.4" fill="#f6efe6"/>
<circle cx="1382" cy="1037.7" r="7.4" fill="#f6efe6"/>
<circle cx="1382" cy="1081" r="7.4" fill="#f6efe6"/>
<circle cx="1382" cy="1122.6" r="7.4" fill="#f6efe6"/>
<circle cx="1433.7" cy="983.5" r="7.4" fill="#f6efe6"/>
<circle cx="1433.7" cy="1037.7" r="7.4" fill="#f6efe6"/>
<circle cx="1433.7" cy="1092.7" r="7.4" fill="#f6efe6"/>
</g>
<g stroke="#160808" stroke-width="3.2" fill="#f3bac8">
<rect x="841.2" y="912.8" width="32.22" height="35.3"/>
<rect x="873.4" y="912.8" width="32.22" height="35.3"/>
<rect x="905.6" y="912.8" width="32.22" height="35.3"/>
<rect x="937.9" y="912.8" width="32.22" height="35.3"/>
<rect x="970.1" y="912.8" width="32.22" height="35.3"/>
<rect x="1002.3" y="912.8" width="32.22" height="35.3"/>
<rect x="1034.5" y="912.8" width="32.22" height="35.3"/>
<rect x="1066.7" y="912.8" width="32.22" height="35.3"/>
<rect x="1099.0" y="912.8" width="32.22" height="35.3"/>
<rect x="1131.2" y="912.8" width="32.22" height="35.3"/>
<rect x="1163.4" y="912.8" width="32.22" height="35.3"/>
</g>
<path d="M873,949L863,998M972.5,932L1099,998" stroke="#b3b66f" stroke-width="2.4" fill="none"/>
<rect x="873" y="912.8" width="99" height="35.4" fill="url(#hO)" stroke="#b3b66f" stroke-width="3"/>
<rect x="855.7" y="1000" width="313.8" height="95.4" rx="17" fill="#d8dab2" stroke="#b3b66f" stroke-width="3"/>
<text x="883.8" y="1060.8" font-family='"Liberation Sans", "DejaVu Sans", sans-serif' font-size="38.5" font-weight="normal" font-style="normal" text-anchor="start" fill="#000" textLength="259" lengthAdjust="spacingAndGlyphs">Dilated Conv1D</text>
<polygon points="1231.9,1029.5 1200.1,1029.5 1200.1,1018.2 1181.2,1039.0 1200.1,1059.8 1200.1,1048.5 1231.9,1048.5" fill="#bfbfbf" stroke="#828282" stroke-width="7" stroke-linejoin="miter"/>
<path d="M1013,1097V1112" stroke="#7f7f7f" stroke-width="3"/><polygon points="1004,1110 1022,1110 1013,1127.5" fill="#7f7f7f"/>
<rect x="857.4" y="1128.8" width="311.3" height="37.4" rx="7" fill="#bcbcbc" stroke="#9c9c9c" stroke-width="2.6"/>
<text x="948.2" y="1160" font-family='"Liberation Sans", "DejaVu Sans", sans-serif' font-size="36" font-weight="normal" font-style="normal" text-anchor="start" fill="#000" textLength="128.4" lengthAdjust="spacingAndGlyphs">Conv1D</text>
<polygon points="1197.3,1160.0 1214.3,1160.0 1214.3,1188.3 1224.3,1188.3 1205.8,1204.2 1187.2,1188.3 1197.3,1188.3" fill="#bfbfbf" stroke="#828282" stroke-width="7" stroke-linejoin="miter"/>
<rect x="1613.2" y="704.3" width="722" height="481.4" fill="#fcfafa" stroke="#747474" stroke-width="3.2" stroke-dasharray="27 10.5 4 10.5"/>
<rect x="1628" y="873.5" width="700.5" height="309" rx="38" fill="#faf5e5" filter="url(#soft)"/>
<text x="1626" y="807.5" font-family='"Liberation Serif", "DejaVu Serif", serif' font-size="60" font-weight="bold" font-style="italic" text-anchor="start" fill="#000">P</text>
<g stroke="#000" stroke-width="2.8" stroke-linejoin="round">
<polygon points="1683.2,783.2 1691.0,774.2 1719.0,774.2 1711.2,783.2" fill="#f7cdd6"/>
<polygon points="1711.2,783.2 1719.0,774.2 1719.0,801.2 1711.2,810.2" fill="#d49bab"/>
<rect x="1683.2" y="783.2" width="28" height="27" fill="#f3bac8"/>
</g>
<g stroke="#000" stroke-width="2.8" stroke-linejoin="round">
<polygon points="1714.1000000000001,783.2 1721.9,774.2 1749.9,774.2 1742.1000000000001,783.2" fill="#f7cdd6"/>
<polygon points="1742.1000000000001,783.2 1749.9,774.2 1749.9,801.2 1742.1000000000001,810.2" fill="#d49bab"/>
<rect x="1714.1000000000001" y="783.2" width="28" height="27" fill="#f3bac8"/>
</g>
<g stroke="#000" stroke-width="2.8" stroke-linejoin="round">
<polygon points="1745.0,783.2 1752.8,774.2 1780.8,774.2 1773.0,783.2" fill="#f7cdd6"/>
<polygon points="1773.0,783.2 1780.8,774.2 1780.8,801.2 1773.0,810.2" fill="#d49bab"/>
<rect x="1745.0" y="783.2" width="28" height="27" fill="#f3bac8"/>
</g>
<g stroke="#000" stroke-width="2.8" stroke-linejoin="round">
<polygon points="1775.9,783.2 1783.7,774.2 1811.7,774.2 1803.9,783.2" fill="#f7cdd6"/>
<polygon points="1803.9,783.2 1811.7,774.2 1811.7,801.2 1803.9,810.2" fill="#d49bab"/>
<rect x="1775.9" y="783.2" width="28" height="27" fill="#f3bac8"/>
</g>
<g stroke="#000" stroke-width="2.8" stroke-linejoin="round">
<polygon points="1806.8,783.2 1814.6,774.2 1842.6,774.2 1834.8,783.2" fill="#f7cdd6"/>
<polygon points="1834.8,783.2 1842.6,774.2 1842.6,801.2 1834.8,810.2" fill="#d49bab"/>
<rect x="1806.8" y="783.2" width="28" height="27" fill="#f3bac8"/>
</g>
<g stroke="#000" stroke-width="2.8" stroke-linejoin="round">
<polygon points="1837.7,783.2 1845.5,774.2 1873.5,774.2 1865.7,783.2" fill="#f7cdd6"/>
<polygon points="1865.7,783.2 1873.5,774.2 1873.5,801.2 1865.7,810.2" fill="#d49bab"/>
<rect x="1837.7" y="783.2" width="28" height="27" fill="#f3bac8"/>
</g>
<g stroke="#000" stroke-width="2.8" stroke-linejoin="round">
<polygon points="1868.6,783.2 1876.3999999999999,774.2 1904.3999999999999,774.2 1896.6,783.2" fill="#f7cdd6"/>
<polygon points="1896.6,783.2 1904.3999999999999,774.2 1904.3999999999999,801.2 1896.6,810.2" fill="#d49bab"/>
<rect x="1868.6" y="783.2" width="28" height="27" fill="#f3bac8"/>
</g>
<polygon points="1775.1,823.3 1794.1,823.3 1794.1,849.3 1803.1,849.3 1784.6,867.2 1766.0,849.3 1775.1,849.3" fill="#bfbfbf" stroke="#828282" stroke-width="7" stroke-linejoin="miter"/>
<path transform="translate(816,0)" d="M1358,711 C1385,711 1410,728 1425,750 C1440,770 1450,785 1450,800 C1450,815 1440,826 1423,834 C1400,843 1360,847 1330,847 C1305,847 1290,835 1288.5,812 C1287,790 1290,765 1297,745 C1305,722 1330,711 1358,711 Z" fill="#e9e9eb" filter="url(#soft2)"/>
<path d="M2158.4,724.1 L2158.4,769.9 A12.0,3.1 0 0 0 2182.4,769.9 L2182.4,724.1 Z" fill="url(#mS)"/>
<path d="M2169.2,738.6 Q2177.6,738.4 2182.4,735.6" fill="none" stroke="#d9a8d3" stroke-width="1.1" opacity="0.75"/>
<path d="M2169.2,750.1 Q2177.6,749.8 2182.4,747.0" fill="none" stroke="#d9a8d3" stroke-width="1.1" opacity="0.75"/>
<path d="M2169.2,761.5 Q2177.6,761.2 2182.4,758.4" fill="none" stroke="#d9a8d3" stroke-width="1.1" opacity="0.75"/>
<ellipse cx="2170.4" cy="724.1" rx="12.0" ry="3.1" fill="url(#mT)"/>
<path d="M2128.2,779.6 L2128.2,825.4 A12.0,3.1 0 0 0 2152.2,825.4 L2152.2,779.6 Z" fill="url(#mS)"/>
<path d="M2139.0,794.1 Q2147.4,793.9 2152.2,791.1" fill="none" stroke="#d9a8d3" stroke-width="1.1" opacity="0.75"/>
<path d="M2139.0,805.6 Q2147.4,805.3 2152.2,802.5" fill="none" stroke="#d9a8d3" stroke-width="1.1" opacity="0.75"/>
<path d="M2139.0,817.0 Q2147.4,816.7 2152.2,813.9" fill="none" stroke="#d9a8d3" stroke-width="1.1" opacity="0.75"/>
<ellipse cx="2140.2" cy="779.6" rx="12.0" ry="3.1" fill="url(#mT)"/>
<path d="M2213.8,764.1 L2213.8,809.9 A12.0,3.1 0 0 0 2237.8,809.9 L2237.8,764.1 Z" fill="url(#mS)"/>
<path d="M2224.6,778.6 Q2233.0,778.4 2237.8,775.6" fill="none" stroke="#d9a8d3" stroke-width="1.1" opacity="0.75"/>
<path d="M2224.6,790.1 Q2233.0,789.8 2237.8,787.0" fill="none" stroke="#d9a8d3" stroke-width="1.1" opacity="0.75"/>
<path d="M2224.6,801.5 Q2233.0,801.2 2237.8,798.4" fill="none" stroke="#d9a8d3" stroke-width="1.1" opacity="0.75"/>
<ellipse cx="2225.8" cy="764.1" rx="12.0" ry="3.1" fill="url(#mT)"/>
<polygon points="2175.8,824.5 2194.2,824.5 2194.2,850.9 2204.3,850.9 2185.0,869.8 2165.7,850.9 2175.8,850.9" fill="#bfbfbf" stroke="#828282" stroke-width="7" stroke-linejoin="miter"/>
<text x="1633" y="744.6" font-family='"Liberation Sans", "DejaVu Sans", sans-serif' font-size="47" font-weight="normal" font-style="normal" text-anchor="start" fill="#000" textLength="492" lengthAdjust="spacingAndGlyphs">general-scale network</text>
<rect x="2051.4" y="893" width="249.4" height="252.5" fill="#f7f0e7" stroke="#2f3b45" stroke-width="3.2" stroke-dasharray="14 10.4"/>
<text x="2108" y="927.2" font-family='"Liberation Sans", "DejaVu Sans", sans-serif' font-size="31.5" font-weight="normal" font-style="normal" text-anchor="start" fill="#000" textLength="146.6" lengthAdjust="spacingAndGlyphs">HyperNet</text>
<g transform="translate(816,0)" stroke="#000" stroke-width="3.9" fill="none" stroke-linecap="round">
<path d="M1288.5,983.5L1340.4,954.2M1433.7,983.5L1382,954.2M1288.5,983.5L1340.4,996.1M1433.7,983.5L1382,996.1M1288.5,983.5L1340.4,1037.7M1433.7,983.5L1382,1037.7M1288.5,983.5L1340.4,1081M1433.7,983.5L1382,1081M1288.5,1037.7L1340.4,954.2M1433.7,1037.7L1382,954.2M1288.5,1037.7L1340.4,996.1M1433.7,1037.7L1382,996.1M1288.5,1037.7L1340.4,1037.7M1433.7,1037.7L1382,1037.7M1288.5,1037.7L1340.4,1081M1433.7,1037.7L1382,1081M1288.5,1037.7L1340.4,1122.6M1433.7,1037.7L1382,1122.6M1288.5,1092.7L1340.4,996.1M1433.7,1092.7L1382,996.1M1288.5,1092.7L1340.4,1037.7M1433.7,1092.7L1382,1037.7M1288.5,1092.7L1340.4,1081M1433.7,1092.7L1382,1081M1288.5,1092.7L1340.4,1122.6M1433.7,1092.7L1382,1122.6M1340.4,954.2L1382,954.2M1340.4,954.2L1382,996.1M1340.4,996.1L1382,954.2M1340.4,996.1L1382,996.1M1340.4,996.1L1382,1037.7M1340.4,1037.7L1382,996.1M1340.4,1037.7L1382,1037.7M1340.4,1037.7L1382,1081M1340.4,1081L1382,1037.7M1340.4,1081L1382,1081M1340.4,1081L1382,1122.6M1340.4,1122.6L1382,1081M1340.4,1122.6L1382,1122.6M1288.5,983.5L1257,983.5M1288.5,1037.7L1257,1037.7M1288.5,1092.7L1257,1092.7"/>
<path d="M1265,977.0L1256.5,983.5L1265,990.0" stroke-width="4.6" stroke-linejoin="round"/>
<path d="M1265,1031.2L1256.5,1037.7L1265,1044.2" stroke-width="4.6" stroke-linejoin="round"/>
<path d="M1265,1086.2L1256.5,1092.7L1265,1099.2" stroke-width="4.6" stroke-linejoin="round"/>
<circle cx="1288.5" cy="983.5" r="7.4" fill="#f6efe6"/>
<circle cx="1288.5" cy="1037.7" r="7.4" fill="#f6efe6"/>
<circle cx="1288.5" cy="1092.7" r="7.4" fill="#f6efe6"/>
<circle cx="1340.4" cy="954.2" r="7.4" fill="#f6efe6"/>
<circle cx="1340.4" cy="996.1" r="7.4" fill="#f6efe6"/>
<circle cx="1340.4" cy="1037.7" r="7.4" fill="#f6efe6"/>
<circle cx="1340.4" cy="1081" r="7.4" fill="#f6efe6"/>
<circle cx="1340.4" cy="1122.6" r="7.4" fill="#f6efe6"/>
<circle cx="1382" cy="954.2" r="7.4" fill="#f6efe6"/>
<circle cx="1382" cy="996.1" r="7.4" fill="#f6efe6"/>
<circle cx="1382" cy="1037.7" r="7.4" fill="#f6efe6"/>
<circle cx="1382" cy="1081" r="7.4" fill="#f6efe6"/>
<circle cx="1382" cy="1122.6" r="7.4" fill="#f6efe6"/>
<circle cx="1433.7" cy="983.5" r="7.4" fill="#f6efe6"/>
<circle cx="1433.7" cy="1037.7" r="7.4" fill="#f6efe6"/>
<circle cx="1433.7" cy="1092.7" r="7.4" fill="#f6efe6"/>
</g>
<g stroke="#160808" stroke-width="3.2" fill="#f3bac8">
<rect x="1657.2" y="912.8" width="32.22" height="35.3"/>
<rect x="1689.4" y="912.8" width="32.22" height="35.3"/>
<rect x="1721.6" y="912.8" width="32.22" height="35.3"/>
<rect x="1753.9" y="912.8" width="32.22" height="35.3"/>
<rect x="1786.1" y="912.8" width="32.22" height="35.3"/>
<rect x="1818.3" y="912.8" width="32.22" height="35.3"/>
<rect x="1850.5" y="912.8" width="32.22" height="35.3"/>
<rect x="1882.7" y="912.8" width="32.22" height="35.3"/>
<rect x="1915.0" y="912.8" width="32.22" height="35.3"/>
<rect x="1947.2" y="912.8" width="32.22" height="35.3"/>
<rect x="1979.4" y="912.8" width="32.22" height="35.3"/>
</g>
<path d="M1719.8,949L1692.7,998M1887.3,937L1943,998" stroke="#7fc6b5" stroke-width="2.4" fill="none"/>
<rect x="1719.8" y="912.8" width="167.5" height="35.4" fill="url(#hT)" stroke="#7fc6b5" stroke-width="3"/>
<rect x="1671.7" y="1000" width="313.8" height="95.4" rx="17" fill="#aadccb" stroke="#7fc6b5" stroke-width="3"/>
<text x="1699.8" y="1060.8" font-family='"Liberation Sans", "DejaVu Sans", sans-serif' font-size="38.5" font-weight="normal" font-style="normal" text-anchor="start" fill="#000" textLength="259" lengthAdjust="spacingAndGlyphs">Dilated Conv1D</text>
<polygon points="2047.9,1029.5 2016.1,1029.5 2016.1,1018.2 1997.2,1039.0 2016.1,1059.8 2016.1,1048.5 2047.9,1048.5" fill="#bfbfbf" stroke="#828282" stroke-width="7" stroke-linejoin="miter"/>
<path d="M1829,1097V1112" stroke="#7f7f7f" stroke-width="3"/><polygon points="1820,1110 1838,1110 1829,1127.5" fill="#7f7f7f"/>
<rect x="1673.4" y="1128.8" width="311.3" height="37.4" rx="7" fill="#bcbcbc" stroke="#9c9c9c" stroke-width="2.6"/>
<text x="1764.2" y="1160" font-family='"Liberation Sans", "DejaVu Sans", sans-serif' font-size="36" font-weight="normal" font-style="normal" text-anchor="start" fill="#000" textLength="128.4" lengthAdjust="spacingAndGlyphs">Conv1D</text>
<polygon points="2013.3,1160.0 2030.3,1160.0 2030.3,1188.3 2040.4,1188.3 2021.8,1204.2 2003.2,1188.3 2013.3,1188.3" fill="#bfbfbf" stroke="#828282" stroke-width="7" stroke-linejoin="miter"/>
<rect x="2424.4" y="704.3" width="722" height="481.4" fill="#fcfafa" stroke="#747474" stroke-width="3.2" stroke-dasharray="27 10.5 4 10.5"/>
<rect x="2444" y="873.5" width="700.5" height="309" rx="38" fill="#faf5e5" filter="url(#soft)"/>
<text x="2442" y="807.5" font-family='"Liberation Serif", "DejaVu Serif", serif' font-size="60" font-weight="bold" font-style="italic" text-anchor="start" fill="#000">P</text>
<g stroke="#000" stroke-width="2.8" stroke-linejoin="round">
<polygon points="2499.2,783.2 2507.0,774.2 2535.0,774.2 2527.2,783.2" fill="#f7cdd6"/>
<polygon points="2527.2,783.2 2535.0,774.2 2535.0,801.2 2527.2,810.2" fill="#d49bab"/>
<rect x="2499.2" y="783.2" width="28" height="27" fill="#f3bac8"/>
</g>
<g stroke="#000" stroke-width="2.8" stroke-linejoin="round">
<polygon points="2530.1,783.2 2537.9,774.2 2565.9,774.2 2558.1,783.2" fill="#f7cdd6"/>
<polygon points="2558.1,783.2 2565.9,774.2 2565.9,801.2 2558.1,810.2" fill="#d49bab"/>
<rect x="2530.1" y="783.2" width="28" height="27" fill="#f3bac8"/>
</g>
<g stroke="#000" stroke-width="2.8" stroke-linejoin="round">
<polygon points="2561.0,783.2 2568.8,774.2 2596.8,774.2 2589.0,783.2" fill="#f7cdd6"/>
<polygon points="2589.0,783.2 2596.8,774.2 2596.8,801.2 2589.0,810.2" fill="#d49bab"/>
<rect x="2561.0" y="783.2" width="28" height="27" fill="#f3bac8"/>
</g>
<g stroke="#000" stroke-width="2.8" stroke-linejoin="round">
<polygon points="2591.8999999999996,783.2 2599.7,774.2 2627.7,774.2 2619.8999999999996,783.2" fill="#f7cdd6"/>
<polygon points="2619.8999999999996,783.2 2627.7,774.2 2627.7,801.2 2619.8999999999996,810.2" fill="#d49bab"/>
<rect x="2591.8999999999996" y="783.2" width="28" height="27" fill="#f3bac8"/>
</g>
<g stroke="#000" stroke-width="2.8" stroke-linejoin="round">
<polygon points="2622.7999999999997,783.2 2630.6,774.2 2658.6,774.2 2650.7999999999997,783.2" fill="#f7cdd6"/>
<polygon points="2650.7999999999997,783.2 2658.6,774.2 2658.6,801.2 2650.7999999999997,810.2" fill="#d49bab"/>
<rect x="2622.7999999999997" y="783.2" width="28" height="27" fill="#f3bac8"/>
</g>
<g stroke="#000" stroke-width="2.8" stroke-linejoin="round">
<polygon points="2653.7,783.2 2661.5,774.2 2689.5,774.2 2681.7,783.2" fill="#f7cdd6"/>
<polygon points="2681.7,783.2 2689.5,774.2 2689.5,801.2 2681.7,810.2" fill="#d49bab"/>
<rect x="2653.7" y="783.2" width="28" height="27" fill="#f3bac8"/>
</g>
<g stroke="#000" stroke-width="2.8" stroke-linejoin="round">
<polygon points="2684.6,783.2 2692.4,774.2 2720.4,774.2 2712.6,783.2" fill="#f7cdd6"/>
<polygon points="2712.6,783.2 2720.4,774.2 2720.4,801.2 2712.6,810.2" fill="#d49bab"/>
<rect x="2684.6" y="783.2" width="28" height="27" fill="#f3bac8"/>
</g>
<polygon points="2591.1,823.3 2610.1,823.3 2610.1,849.3 2619.2,849.3 2600.6,867.2 2582.0,849.3 2591.1,849.3" fill="#bfbfbf" stroke="#828282" stroke-width="7" stroke-linejoin="miter"/>
<path transform="translate(1632,0)" d="M1358,711 C1385,711 1410,728 1425,750 C1440,770 1450,785 1450,800 C1450,815 1440,826 1423,834 C1400,843 1360,847 1330,847 C1305,847 1290,835 1288.5,812 C1287,790 1290,765 1297,745 C1305,722 1330,711 1358,711 Z" fill="#e9e9eb" filter="url(#soft2)"/>
<path d="M2974.4,724.1 L2974.4,769.9 A12.0,3.1 0 0 0 2998.4,769.9 L2998.4,724.1 Z" fill="url(#mS)"/>
<path d="M2985.2,738.6 Q2993.6,738.4 2998.4,735.6" fill="none" stroke="#d9a8d3" stroke-width="1.1" opacity="0.75"/>
<path d="M2985.2,750.1 Q2993.6,749.8 2998.4,747.0" fill="none" stroke="#d9a8d3" stroke-width="1.1" opacity="0.75"/>
<path d="M2985.2,761.5 Q2993.6,761.2 2998.4,758.4" fill="none" stroke="#d9a8d3" stroke-width="1.1" opacity="0.75"/>
<ellipse cx="2986.4" cy="724.1" rx="12.0" ry="3.1" fill="url(#mT)"/>
<path d="M2944.2,779.6 L2944.2,825.4 A12.0,3.1 0 0 0 2968.2,825.4 L2968.2,779.6 Z" fill="url(#mS)"/>
<path d="M2955.0,794.1 Q2963.4,793.9 2968.2,791.1" fill="none" stroke="#d9a8d3" stroke-width="1.1" opacity="0.75"/>
<path d="M2955.0,805.6 Q2963.4,805.3 2968.2,802.5" fill="none" stroke="#d9a8d3" stroke-width="1.1" opacity="0.75"/>
<path d="M2955.0,817.0 Q2963.4,816.7 2968.2,813.9" fill="none" stroke="#d9a8d3" stroke-width="1.1" opacity="0.75"/>
<ellipse cx="2956.2" cy="779.6" rx="12.0" ry="3.1" fill="url(#mT)"/>
<path d="M3029.8,764.1 L3029.8,809.9 A12.0,3.1 0 0 0 3053.8,809.9 L3053.8,764.1 Z" fill="url(#mS)"/>
<path d="M3040.6,778.6 Q3049.0,778.4 3053.8,775.6" fill="none" stroke="#d9a8d3" stroke-width="1.1" opacity="0.75"/>
<path d="M3040.6,790.1 Q3049.0,789.8 3053.8,787.0" fill="none" stroke="#d9a8d3" stroke-width="1.1" opacity="0.75"/>
<path d="M3040.6,801.5 Q3049.0,801.2 3053.8,798.4" fill="none" stroke="#d9a8d3" stroke-width="1.1" opacity="0.75"/>
<ellipse cx="3041.8" cy="764.1" rx="12.0" ry="3.1" fill="url(#mT)"/>
<polygon points="2991.8,824.5 3010.2,824.5 3010.2,850.9 3020.3,850.9 3001.0,869.8 2981.7,850.9 2991.8,850.9" fill="#bfbfbf" stroke="#828282" stroke-width="7" stroke-linejoin="miter"/>
<text x="2437.4" y="747.8" font-family='"Liberation Sans", "DejaVu Sans", sans-serif' font-size="47" font-weight="normal" font-style="normal" text-anchor="start" fill="#000" textLength="421.3" lengthAdjust="spacingAndGlyphs">long-scale network</text>
<rect x="2867.4" y="893" width="249.4" height="252.5" fill="#f7f0e7" stroke="#2f3b45" stroke-width="3.2" stroke-dasharray="14 10.4"/>
<text x="2924" y="927.2" font-family='"Liberation Sans", "DejaVu Sans", sans-serif' font-size="31.5" font-weight="normal" font-style="normal" text-anchor="start" fill="#000" textLength="146.6" lengthAdjust="spacingAndGlyphs">HyperNet</text>
<g transform="translate(1632,0)" stroke="#000" stroke-width="3.9" fill="none" stroke-linecap="round">
<path d="M1288.5,983.5L1340.4,954.2M1433.7,983.5L1382,954.2M1288.5,983.5L1340.4,996.1M1433.7,983.5L1382,996.1M1288.5,983.5L1340.4,1037.7M1433.7,983.5L1382,1037.7M1288.5,983.5L1340.4,1081M1433.7,983.5L1382,1081M1288.5,1037.7L1340.4,954.2M1433.7,1037.7L1382,954.2M1288.5,1037.7L1340.4,996.1M1433.7,1037.7L1382,996.1M1288.5,1037.7L1340.4,1037.7M1433.7,1037.7L1382,1037.7M1288.5,1037.7L1340.4,1081M1433.7,1037.7L1382,1081M1288.5,1037.7L1340.4,1122.6M1433.7,1037.7L1382,1122.6M1288.5,1092.7L1340.4,996.1M1433.7,1092.7L1382,996.1M1288.5,1092.7L1340.4,1037.7M1433.7,1092.7L1382,1037.7M1288.5,1092.7L1340.4,1081M1433.7,1092.7L1382,1081M1288.5,1092.7L1340.4,1122.6M1433.7,1092.7L1382,1122.6M1340.4,954.2L1382,954.2M1340.4,954.2L1382,996.1M1340.4,996.1L1382,954.2M1340.4,996.1L1382,996.1M1340.4,996.1L1382,1037.7M1340.4,1037.7L1382,996.1M1340.4,1037.7L1382,1037.7M1340.4,1037.7L1382,1081M1340.4,1081L1382,1037.7M1340.4,1081L1382,1081M1340.4,1081L1382,1122.6M1340.4,1122.6L1382,1081M1340.4,1122.6L1382,1122.6M1288.5,983.5L1257,983.5M1288.5,1037.7L1257,1037.7M1288.5,1092.7L1257,1092.7"/>
<path d="M1265,977.0L1256.5,983.5L1265,990.0" stroke-width="4.6" stroke-linejoin="round"/>
<path d="M1265,1031.2L1256.5,1037.7L1265,1044.2" stroke-width="4.6" stroke-linejoin="round"/>
<path d="M1265,1086.2L1256.5,1092.7L1265,1099.2" stroke-width="4.6" stroke-linejoin="round"/>
<circle cx="1288.5" cy="983.5" r="7.4" fill="#f6efe6"/>
<circle cx="1288.5" cy="1037.7" r="7.4" fill="#f6efe6"/>
<circle cx="1288.5" cy="1092.7" r="7.4" fill="#f6efe6"/>
<circle cx="1340.4" cy="954.2" r="7.4" fill="#f6efe6"/>
<circle cx="1340.4" cy="996.1" r="7.4" fill="#f6efe6"/>
<circle cx="1340.4" cy="1037.7" r="7.4" fill="#f6efe6"/>
<circle cx="1340.4" cy="1081" r="7.4" fill="#f6efe6"/>
<circle cx="1340.4" cy="1122.6" r="7.4" fill="#f6efe6"/>
<circle cx="1382" cy="954.2" r="7.4" fill="#f6efe6"/>
<circle cx="1382" cy="996.1" r="7.4" fill="#f6efe6"/>
<circle cx="1382" cy="1037.7" r="7.4" fill="#f6efe6"/>
<circle cx="1382" cy="1081" r="7.4" fill="#f6efe6"/>
<circle cx="1382" cy="1122.6" r="7.4" fill="#f6efe6"/>
<circle cx="1433.7" cy="983.5" r="7.4" fill="#f6efe6"/>
<circle cx="1433.7" cy="1037.7" r="7.4" fill="#f6efe6"/>
<circle cx="1433.7" cy="1092.7" r="7.4" fill="#f6efe6"/>
</g>
<g stroke="#160808" stroke-width="3.2" fill="#f3bac8">
<rect x="2473.2" y="912.8" width="32.22" height="35.3"/>
<rect x="2505.4" y="912.8" width="32.22" height="35.3"/>
<rect x="2537.6" y="912.8" width="32.22" height="35.3"/>
<rect x="2569.9" y="912.8" width="32.22" height="35.3"/>
<rect x="2602.1" y="912.8" width="32.22" height="35.3"/>
<rect x="2634.3" y="912.8" width="32.22" height="35.3"/>
<rect x="2666.5" y="912.8" width="32.22" height="35.3"/>
<rect x="2698.7" y="912.8" width="32.22" height="35.3"/>
<rect x="2731.0" y="912.8" width="32.22" height="35.3"/>
<rect x="2763.2" y="912.8" width="32.22" height="35.3"/>
<rect x="2795.4" y="912.8" width="32.22" height="35.3"/>
</g>
<path d="M2473.6,949L2487,1030M2694.2,932.4L2756.4,998" stroke="#e4805c" stroke-width="2.4" fill="none"/>
<rect x="2472.6" y="912.8" width="221.9000000000001" height="35.4" fill="url(#hR)" stroke="#e4805c" stroke-width="3"/>
<rect x="2487.7" y="1000" width="313.8" height="95.4" rx="17" fill="#f5b7a3" stroke="#e4805c" stroke-width="3"/>
<text x="2515.8" y="1060.8" font-family='"Liberation Sans", "DejaVu Sans", sans-serif' font-size="38.5" font-weight="normal" font-style="normal" text-anchor="start" fill="#000" textLength="259" lengthAdjust="spacingAndGlyphs">Dilated Conv1D</text>
<polygon points="2863.9,1029.5 2832.1,1029.5 2832.1,1018.2 2813.2,1039.0 2832.1,1059.8 2832.1,1048.5 2863.9,1048.5" fill="#bfbfbf" stroke="#828282" stroke-width="7" stroke-linejoin="miter"/>
<path d="M2645,1097V1112" stroke="#7f7f7f" stroke-width="3"/><polygon points="2636,1110 2654,1110 2645,1127.5" fill="#7f7f7f"/>
<rect x="2489.4" y="1128.8" width="311.3" height="37.4" rx="7" fill="#bcbcbc" stroke="#9c9c9c" stroke-width="2.6"/>
<text x="2580.2" y="1160" font-family='"Liberation Sans", "DejaVu Sans", sans-serif' font-size="36" font-weight="normal" font-style="normal" text-anchor="start" fill="#000" textLength="128.4" lengthAdjust="spacingAndGlyphs">Conv1D</text>
<polygon points="2829.3,1160.0 2846.3,1160.0 2846.3,1188.3 2856.4,1188.3 2837.8,1204.2 2819.2,1188.3 2829.3,1188.3" fill="#bfbfbf" stroke="#828282" stroke-width="7" stroke-linejoin="miter"/>
<text x="1741.2" y="1277" font-family='"Liberation Sans", "DejaVu Sans", sans-serif' font-size="54" font-weight="normal" font-style="normal" text-anchor="start" fill="#000" textLength="468.5" lengthAdjust="spacingAndGlyphs">Position-level Gate</text>
<polygon points="2013.0,1289.1 2031.5,1289.1 2031.5,1315.5 2041.0,1315.5 2022.2,1332.2 2003.4,1315.5 2013.0,1315.5" fill="#bfbfbf" stroke="#828282" stroke-width="7" stroke-linejoin="miter"/>
<text x="841.6" y="1359.3" font-family='"Liberation Sans", "DejaVu Sans", sans-serif' font-size="43" font-weight="normal" font-style="italic" text-anchor="start" fill="#000" textLength="426.7" lengthAdjust="spacingAndGlyphs" stroke="#000" stroke-width="0.9">Multi-scale semantic</text>
<text x="904" y="1407" font-family='"Liberation Sans", "DejaVu Sans", sans-serif' font-size="43" font-weight="normal" font-style="italic" text-anchor="start" fill="#000" textLength="301.8" lengthAdjust="spacingAndGlyphs" stroke="#000" stroke-width="0.9">representation</text>
<g stroke="#000" stroke-width="3" stroke-linejoin="round">
<polygon points="1307.8,1355.2 1322.8,1339.2 1377.2,1339.2 1362.2,1355.2" fill="#c9cceb"/>
<polygon points="1362.2,1355.2 1377.2,1339.2 1377.2,1384.8 1362.2,1400.8" fill="#9da1c2"/>
<rect x="1307.8" y="1355.2" width="54.4" height="45.6" fill="#c0c3e6"/>
</g>
<g stroke="#000" stroke-width="3" stroke-linejoin="round">
<polygon points="1369.23,1355.2 1384.23,1339.2 1438.63,1339.2 1423.63,1355.2" fill="#c9cceb"/>
<polygon points="1423.63,1355.2 1438.63,1339.2 1438.63,1384.8 1423.63,1400.8" fill="#9da1c2"/>
<rect x="1369.23" y="1355.2" width="54.4" height="45.6" fill="#c0c3e6"/>
</g>
<g stroke="#000" stroke-width="3" stroke-linejoin="round">
<polygon points="1430.6599999999999,1355.2 1445.6599999999999,1339.2 1500.06,1339.2 1485.06,1355.2" fill="#c9cceb"/>
<polygon points="1485.06,1355.2 1500.06,1339.2 1500.06,1384.8 1485.06,1400.8" fill="#9da1c2"/>
<rect x="1430.6599999999999" y="1355.2" width="54.4" height="45.6" fill="#c0c3e6"/>
</g>
<g stroke="#000" stroke-width="3" stroke-linejoin="round">
<polygon points="1492.09,1355.2 1507.09,1339.2 1561.49,1339.2 1546.49,1355.2" fill="#c9cceb"/>
<polygon points="1546.49,1355.2 1561.49,1339.2 1561.49,1384.8 1546.49,1400.8" fill="#9da1c2"/>
<rect x="1492.09" y="1355.2" width="54.4" height="45.6" fill="#c0c3e6"/>
</g>
<g stroke="#000" stroke-width="3" stroke-linejoin="round">
<polygon points="1553.52,1355.2 1568.52,1339.2 1622.92,1339.2 1607.92,1355.2" fill="#c9cceb"/>
<polygon points="1607.92,1355.2 1622.92,1339.2 1622.92,1384.8 1607.92,1400.8" fill="#9da1c2"/>
<rect x="1553.52" y="1355.2" width="54.4" height="45.6" fill="#c0c3e6"/>
</g>
<g stroke="#000" stroke-width="3" stroke-linejoin="round">
<polygon points="1614.9499999999998,1355.2 1629.9499999999998,1339.2 1684.35,1339.2 1669.35,1355.2" fill="#c9cceb"/>
<polygon points="1669.35,1355.2 1684.35,1339.2 1684.35,1384.8 1669.35,1400.8" fill="#9da1c2"/>
<rect x="1614.9499999999998" y="1355.2" width="54.4" height="45.6" fill="#c0c3e6"/>
</g>
<g stroke="#000" stroke-width="3" stroke-linejoin="round">
<polygon points="1676.3799999999999,1355.2 1691.3799999999999,1339.2 1745.78,1339.2 1730.78,1355.2" fill="#c9cceb"/>
<polygon points="1730.78,1355.2 1745.78,1339.2 1745.78,1384.8 1730.78,1400.8" fill="#9da1c2"/>
<rect x="1676.3799999999999" y="1355.2" width="54.4" height="45.6" fill="#c0c3e6"/>
</g>
<g stroke="#000" stroke-width="3" stroke-linejoin="round">
<polygon points="1737.81,1355.2 1752.81,1339.2 1807.21,1339.2 1792.21,1355.2" fill="#c9cceb"/>
<polygon points="1792.21,1355.2 1807.21,1339.2 1807.21,1384.8 1792.21,1400.8" fill="#9da1c2"/>
<rect x="1737.81" y="1355.2" width="54.4" height="45.6" fill="#c0c3e6"/>
</g>
<g stroke="#000" stroke-width="3" stroke-linejoin="round">
<polygon points="1799.24,1355.2 1814.24,1339.2 1868.64,1339.2 1853.64,1355.2" fill="#c9cceb"/>
<polygon points="1853.64,1355.2 1868.64,1339.2 1868.64,1384.8 1853.64,1400.8" fill="#9da1c2"/>
<rect x="1799.24" y="1355.2" width="54.4" height="45.6" fill="#c0c3e6"/>
</g>
<g stroke="#000" stroke-width="3" stroke-linejoin="round">
<polygon points="1860.67,1355.2 1875.67,1339.2 1930.0700000000002,1339.2 1915.0700000000002,1355.2" fill="#c9cceb"/>
<polygon points="1915.0700000000002,1355.2 1930.0700000000002,1339.2 1930.0700000000002,1384.8 1915.0700000000002,1400.8" fill="#9da1c2"/>
<rect x="1860.67" y="1355.2" width="54.4" height="45.6" fill="#c0c3e6"/>
</g>
<g stroke="#000" stroke-width="3" stroke-linejoin="round">
<polygon points="1922.1,1355.2 1937.1,1339.2 1991.5,1339.2 1976.5,1355.2" fill="#c9cceb"/>
<polygon points="1976.5,1355.2 1991.5,1339.2 1991.5,1384.8 1976.5,1400.8" fill="#9da1c2"/>
<rect x="1922.1" y="1355.2" width="54.4" height="45.6" fill="#c0c3e6"/>
</g>
<g stroke="#000" stroke-width="3" stroke-linejoin="round">
<polygon points="1983.53,1355.2 1998.53,1339.2 2052.9300000000003,1339.2 2037.93,1355.2" fill="#c9cceb"/>
<polygon points="2037.93,1355.2 2052.9300000000003,1339.2 2052.9300000000003,1384.8 2037.93,1400.8" fill="#9da1c2"/>
<rect x="1983.53" y="1355.2" width="54.4" height="45.6" fill="#c0c3e6"/>
</g>
<g stroke="#000" stroke-width="3" stroke-linejoin="round">
<polygon points="2044.96,1355.2 2059.96,1339.2 2114.36,1339.2 2099.36,1355.2" fill="#c9cceb"/>
<polygon points="2099.36,1355.2 2114.36,1339.2 2114.36,1384.8 2099.36,1400.8" fill="#9da1c2"/>
<rect x="2044.96" y="1355.2" width="54.4" height="45.6" fill="#c0c3e6"/>
</g>
<g stroke="#000" stroke-width="3" stroke-linejoin="round">
<polygon points="2106.39,1355.2 2121.39,1339.2 2175.79,1339.2 2160.79,1355.2" fill="#c9cceb"/>
<polygon points="2160.79,1355.2 2175.79,1339.2 2175.79,1384.8 2160.79,1400.8" fill="#9da1c2"/>
<rect x="2106.39" y="1355.2" width="54.4" height="45.6" fill="#c0c3e6"/>
</g>
<g stroke="#000" stroke-width="3" stroke-linejoin="round">
<polygon points="2167.8199999999997,1355.2 2182.8199999999997,1339.2 2237.22,1339.2 2222.22,1355.2" fill="#c9cceb"/>
<polygon points="2222.22,1355.2 2237.22,1339.2 2237.22,1384.8 2222.22,1400.8" fill="#9da1c2"/>
<rect x="2167.8199999999997" y="1355.2" width="54.4" height="45.6" fill="#c0c3e6"/>
</g>
<g stroke="#000" stroke-width="3" stroke-linejoin="round">
<polygon points="2229.25,1355.2 2244.25,1339.2 2298.65,1339.2 2283.65,1355.2" fill="#c9cceb"/>
<polygon points="2283.65,1355.2 2298.65,1339.2 2298.65,1384.8 2283.65,1400.8" fill="#9da1c2"/>
<rect x="2229.25" y="1355.2" width="54.4" height="45.6" fill="#c0c3e6"/>
</g>
<g stroke="#000" stroke-width="3" stroke-linejoin="round">
<polygon points="2290.68,1355.2 2305.68,1339.2 2360.08,1339.2 2345.08,1355.2" fill="#c9cceb"/>
<polygon points="2345.08,1355.2 2360.08,1339.2 2360.08,1384.8 2345.08,1400.8" fill="#9da1c2"/>
<rect x="2290.68" y="1355.2" width="54.4" height="45.6" fill="#c0c3e6"/>
</g>
<g stroke="#000" stroke-width="3" stroke-linejoin="round">
<polygon points="2352.1099999999997,1355.2 2367.1099999999997,1339.2 2421.5099999999998,1339.2 2406.5099999999998,1355.2" fill="#c9cceb"/>
<polygon points="2406.5099999999998,1355.2 2421.5099999999998,1339.2 2421.5099999999998,1384.8 2406.5099999999998,1400.8" fill="#9da1c2"/>
<rect x="2352.1099999999997" y="1355.2" width="54.4" height="45.6" fill="#c0c3e6"/>
</g>
<g stroke="#000" stroke-width="3" stroke-linejoin="round">
<polygon points="2413.54,1355.2 2428.54,1339.2 2482.94,1339.2 2467.94,1355.2" fill="#c9cceb"/>
<polygon points="2467.94,1355.2 2482.94,1339.2 2482.94,1384.8 2467.94,1400.8" fill="#9da1c2"/>
<rect x="2413.54" y="1355.2" width="54.4" height="45.6" fill="#c0c3e6"/>
</g>
<g stroke="#000" stroke-width="3" stroke-linejoin="round">
<polygon points="2474.9700000000003,1355.2 2489.9700000000003,1339.2 2544.3700000000003,1339.2 2529.3700000000003,1355.2" fill="#c9cceb"/>
<polygon points="2529.3700000000003,1355.2 2544.3700000000003,1339.2 2544.3700000000003,1384.8 2529.3700000000003,1400.8" fill="#9da1c2"/>
<rect x="2474.9700000000003" y="1355.2" width="54.4" height="45.6" fill="#c0c3e6"/>
</g>
<g stroke="#000" stroke-width="3" stroke-linejoin="round">
<polygon points="2536.3999999999996,1355.2 2551.3999999999996,1339.2 2605.7999999999997,1339.2 2590.7999999999997,1355.2" fill="#c9cceb"/>
<polygon points="2590.7999999999997,1355.2 2605.7999999999997,1339.2 2605.7999999999997,1384.8 2590.7999999999997,1400.8" fill="#9da1c2"/>
<rect x="2536.3999999999996" y="1355.2" width="54.4" height="45.6" fill="#c0c3e6"/>
</g>
<text x="2652" y="1390.7" font-family='"Liberation Serif", "DejaVu Serif", serif' font-size="66" font-weight="normal" font-style="italic" text-anchor="start" fill="#000">h</text>
<polygon points="2010.2,1427.3 2028.8,1427.3 2028.8,1453.5 2038.8,1453.5 2019.5,1470.8 2000.2,1453.5 2010.2,1453.5" fill="#bfbfbf" stroke="#828282" stroke-width="7" stroke-linejoin="miter"/>
<rect x="803.6" y="1495.2" width="2343" height="97.8" rx="12" fill="#fdf9e8"/>
<text x="600" y="1522.4" font-family='"Liberation Sans", "DejaVu Sans", sans-serif' font-size="58" font-weight="bold" font-style="normal" text-anchor="start" fill="#000" textLength="39" lengthAdjust="spacingAndGlyphs">c.</text>
<text x="1635" y="1566" font-family='"Liberation Sans", "DejaVu Sans", sans-serif' font-size="53" font-weight="normal" font-style="normal" text-anchor="start" fill="#000" textLength="677.3" lengthAdjust="spacingAndGlyphs">Sequence Encode Network</text>
<polygon points="2009.9,1608.5 2029.9,1608.5 2029.9,1631.9 2042.0,1631.9 2019.9,1651.2 1997.9,1631.9 2009.9,1631.9" fill="#bfbfbf" stroke="#828282" stroke-width="7" stroke-linejoin="miter"/>
<rect x="803.6" y="1670.8" width="2343" height="65.2" rx="10" fill="#e6e9dc"/>
<text x="600" y="1712.6" font-family='"Liberation Sans", "DejaVu Sans", sans-serif' font-size="58" font-weight="bold" font-style="normal" text-anchor="start" fill="#000" textLength="46" lengthAdjust="spacingAndGlyphs">d.</text>
<text x="1772.6" y="1723.5" font-family='"Liberation Sans", "DejaVu Sans", sans-serif' font-size="53" font-weight="normal" font-style="normal" text-anchor="start" fill="#000" textLength="405.4" lengthAdjust="spacingAndGlyphs">Prediction Layer</text>
<rect x="810" y="1745.2" width="2329.5" height="77.2" rx="10" fill="#fdf5f1"/>
<text x="832.4" y="1795.2" font-family='"Liberation Sans", "DejaVu Sans", sans-serif' font-size="32" font-weight="normal" font-style="normal" text-anchor="start" fill="#111" textLength="60.5" lengthAdjust="spacingAndGlyphs">0.82</text>
<text x="927.0" y="1795.2" font-family='"Liberation Sans", "DejaVu Sans", sans-serif' font-size="32" font-weight="normal" font-style="normal" text-anchor="start" fill="#111" textLength="60.5" lengthAdjust="spacingAndGlyphs">0.64</text>
<text x="1021.7" y="1795.2" font-family='"Liberation Sans", "DejaVu Sans", sans-serif' font-size="32" font-weight="normal" font-style="normal" text-anchor="start" fill="#111" textLength="60.5" lengthAdjust="spacingAndGlyphs">0.71</text>
<text x="1116.3" y="1795.2" font-family='"Liberation Sans", "DejaVu Sans", sans-serif' font-size="32" font-weight="normal" font-style="normal" text-anchor="start" fill="#111" textLength="60.5" lengthAdjust="spacingAndGlyphs">0.90</text>
<text x="1210.9" y="1795.2" font-family='"Liberation Sans", "DejaVu Sans", sans-serif' font-size="32" font-weight="normal" font-style="normal" text-anchor="start" fill="#111" textLength="60.5" lengthAdjust="spacingAndGlyphs">0.48</text>
<text x="1305.5" y="1795.2" font-family='"Liberation Sans", "DejaVu Sans", sans-serif' font-size="32" font-weight="normal" font-style="normal" text-anchor="start" fill="#111" textLength="60.5" lengthAdjust="spacingAndGlyphs">0.61</text>
<text x="1400.2" y="1795.2" font-family='"Liberation Sans", "DejaVu Sans", sans-serif' font-size="32" font-weight="normal" font-style="normal" text-anchor="start" fill="#111" textLength="60.5" lengthAdjust="spacingAndGlyphs">0.57</text>
<text x="1494.8" y="1795.2" font-family='"Liberation Sans", "DejaVu Sans", sans-serif' font-size="32" font-weight="normal" font-style="normal" text-anchor="start" fill="#111" textLength="60.5" lengthAdjust="spacingAndGlyphs">0.24</text>
<text x="1589.4" y="1795.2" font-family='"Liberation Sans", "DejaVu Sans", sans-serif' font-size="32" font-weight="normal" font-style="normal" text-anchor="start" fill="#111" textLength="60.5" lengthAdjust="spacingAndGlyphs">0.02</text>
<text x="1684.1" y="1795.2" font-family='"Liberation Sans", "DejaVu Sans", sans-serif' font-size="32" font-weight="normal" font-style="normal" text-anchor="start" fill="#111" textLength="60.5" lengthAdjust="spacingAndGlyphs">0.04</text>
<text x="1778.7" y="1795.2" font-family='"Liberation Sans", "DejaVu Sans", sans-serif' font-size="32" font-weight="normal" font-style="normal" text-anchor="start" fill="#111" textLength="60.5" lengthAdjust="spacingAndGlyphs">0.01</text>
<text x="1873.3" y="1795.2" font-family='"Liberation Sans", "DejaVu Sans", sans-serif' font-size="32" font-weight="normal" font-style="normal" text-anchor="start" fill="#111" textLength="60.5" lengthAdjust="spacingAndGlyphs">0.20</text>
<text x="1968.0" y="1795.2" font-family='"Liberation Sans", "DejaVu Sans", sans-serif' font-size="32" font-weight="normal" font-style="normal" text-anchor="start" fill="#111" textLength="60.5" lengthAdjust="spacingAndGlyphs">0.41</text>
<text x="2062.6" y="1795.2" font-family='"Liberation Sans", "DejaVu Sans", sans-serif' font-size="32" font-weight="normal" font-style="normal" text-anchor="start" fill="#111" textLength="60.5" lengthAdjust="spacingAndGlyphs">0.31</text>
<text x="2157.2" y="1795.2" font-family='"Liberation Sans", "DejaVu Sans", sans-serif' font-size="32" font-weight="normal" font-style="normal" text-anchor="start" fill="#111" textLength="60.5" lengthAdjust="spacingAndGlyphs">0.07</text>
<text x="2251.8" y="1795.2" font-family='"Liberation Sans", "DejaVu Sans", sans-serif' font-size="32" font-weight="normal" font-style="normal" text-anchor="start" fill="#111" textLength="60.5" lengthAdjust="spacingAndGlyphs">0.04</text>
<text x="2346.5" y="1795.2" font-family='"Liberation Sans", "DejaVu Sans", sans-serif' font-size="32" font-weight="normal" font-style="normal" text-anchor="start" fill="#111" textLength="60.5" lengthAdjust="spacingAndGlyphs">0.02</text>
<text x="2441.1" y="1795.2" font-family='"Liberation Sans", "DejaVu Sans", sans-serif' font-size="32" font-weight="normal" font-style="normal" text-anchor="start" fill="#111" textLength="60.5" lengthAdjust="spacingAndGlyphs">0.54</text>
<text x="2535.7" y="1795.2" font-family='"Liberation Sans", "DejaVu Sans", sans-serif' font-size="32" font-weight="normal" font-style="normal" text-anchor="start" fill="#111" textLength="60.5" lengthAdjust="spacingAndGlyphs">0.91</text>
<text x="2630.4" y="1795.2" font-family='"Liberation Sans", "DejaVu Sans", sans-serif' font-size="32" font-weight="normal" font-style="normal" text-anchor="start" fill="#111" textLength="60.5" lengthAdjust="spacingAndGlyphs">0.80</text>
<text x="2725.0" y="1795.2" font-family='"Liberation Sans", "DejaVu Sans", sans-serif' font-size="32" font-weight="normal" font-style="normal" text-anchor="start" fill="#111" textLength="60.5" lengthAdjust="spacingAndGlyphs">0.38</text>
<text x="2819.6" y="1795.2" font-family='"Liberation Sans", "DejaVu Sans", sans-serif' font-size="32" font-weight="normal" font-style="normal" text-anchor="start" fill="#111" textLength="60.5" lengthAdjust="spacingAndGlyphs">0.51</text>
<text x="2914.3" y="1795.2" font-family='"Liberation Sans", "DejaVu Sans", sans-serif' font-size="32" font-weight="normal" font-style="normal" text-anchor="start" fill="#111" textLength="60.5" lengthAdjust="spacingAndGlyphs">0.67</text>
<text x="3008.9" y="1795.2" font-family='"Liberation Sans", "DejaVu Sans", sans-serif' font-size="32" font-weight="normal" font-style="normal" text-anchor="start" fill="#111" textLength="60.5" lengthAdjust="spacingAndGlyphs">0.74</text>
</svg>
</body></html>
